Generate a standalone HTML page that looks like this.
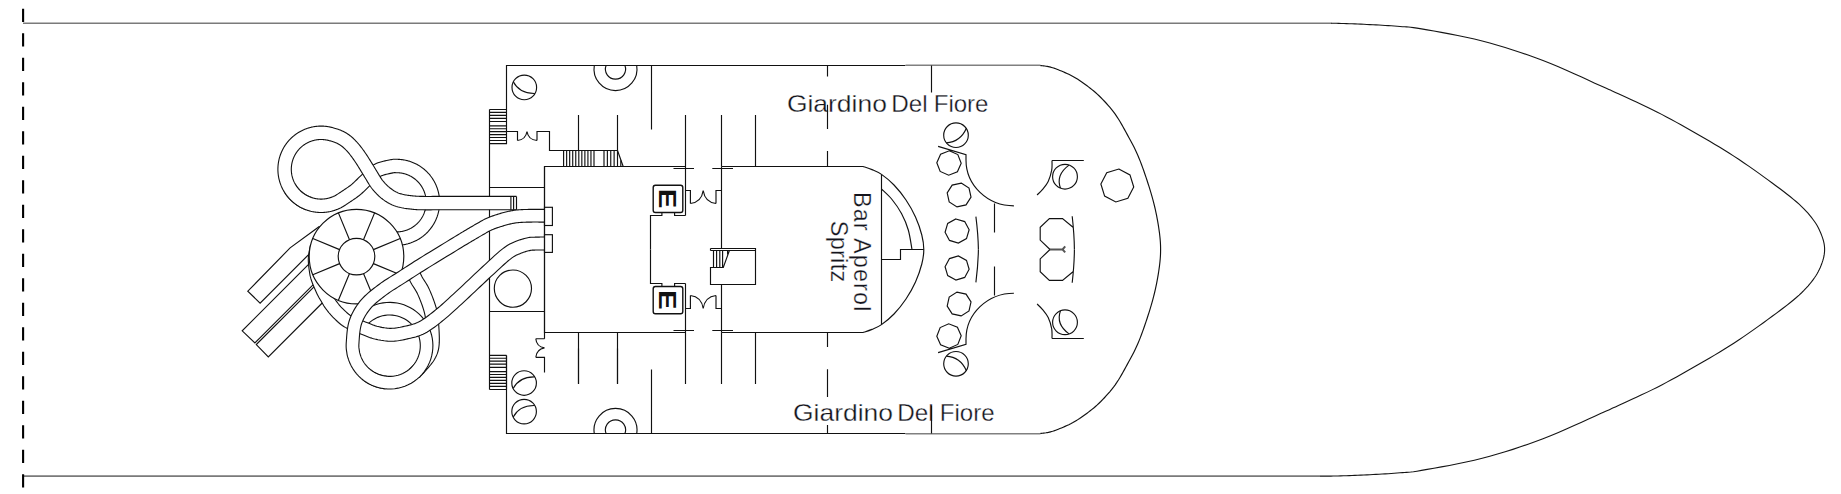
<!DOCTYPE html>
<html lang="it"><head><meta charset="utf-8"><title>Deck plan</title>
<style>html,body{margin:0;padding:0;background:#fff;}body{width:1841px;height:494px;overflow:hidden;}svg{display:block;}text{font-family:"Liberation Sans",sans-serif;fill:#14141c;}.t{stroke:#fff;stroke-width:.3px;paint-order:fill stroke;}.l{fill:none;stroke:#111;stroke-width:1.15;}.w{fill:#fff;stroke:#111;stroke-width:1.15;}</style></head><body>
<svg width="1841" height="494" viewBox="0 0 1841 494">
<rect width="1841" height="494" fill="#fff"/>
<path d="M23 23.2 L1331.5 23.2M23 476.1 L1320 476.1" fill="none" stroke="#7a7a7a" stroke-width="1.6"/>
<path d="M1331 23.2L1333.6 23.25L1336.18 23.31L1338.74 23.37L1341.31 23.44L1343.91 23.52L1346.54 23.61L1349.23 23.7L1352 23.8L1354.86 23.91L1357.79 24.03L1360.78 24.15L1363.81 24.29L1366.87 24.43L1369.93 24.58L1372.98 24.74L1376 24.9L1379.02 25.07L1382.06 25.25L1385.11 25.43L1388.16 25.62L1391.18 25.82L1394.18 26.03L1397.12 26.26L1400 26.5L1402.54 26.7L1404.63 26.82L1406.52 26.92L1408.46 27.04L1410.68 27.25L1413.43 27.6L1416.95 28.13L1421.5 28.9L1427.21 29.9L1433.92 31.07L1441.39 32.4L1449.39 33.88L1457.71 35.49L1466.1 37.23L1474.34 39.07L1482.2 41L1489.82 43.05L1497.48 45.23L1505.16 47.53L1512.83 49.94L1520.47 52.46L1528.06 55.06L1535.58 57.75L1543 60.5L1550.57 63.48L1558.42 66.75L1566.35 70.21L1574.15 73.7L1581.62 77.11L1588.55 80.3L1594.75 83.14L1600 85.5L1604.01 87.27L1606.84 88.52L1608.84 89.4L1610.36 90.08L1611.72 90.7L1613.29 91.43L1615.4 92.41L1618.4 93.8L1622.25 95.57L1626.61 97.57L1631.37 99.74L1636.4 102.05L1641.59 104.46L1646.81 106.93L1651.95 109.43L1656.9 111.9L1661.7 114.38L1666.5 116.92L1671.3 119.5L1676.1 122.14L1680.9 124.81L1685.7 127.51L1690.5 130.25L1695.3 133L1700.11 135.77L1704.92 138.55L1709.73 141.35L1714.55 144.19L1719.37 147.07L1724.18 150.01L1728.99 153.02L1733.8 156.1L1738.68 159.32L1743.68 162.69L1748.71 166.16L1753.72 169.67L1758.65 173.16L1763.41 176.59L1767.95 179.88L1772.2 183L1776.19 185.95L1780 188.79L1783.64 191.54L1787.09 194.2L1790.36 196.79L1793.45 199.31L1796.37 201.78L1799.1 204.2L1801.63 206.56L1803.94 208.84L1806.06 211.06L1808 213.21L1809.79 215.32L1811.46 217.4L1813.02 219.46L1814.5 221.5L1815.87 223.54L1817.09 225.55L1818.18 227.54L1819.16 229.5L1820.04 231.42L1820.83 233.3L1821.54 235.13L1822.2 236.9L1822.79 238.6L1823.29 240.22L1823.7 241.78L1824.03 243.3L1824.28 244.8L1824.46 246.31L1824.57 247.83L1824.6 249.4L1824.57 250.98L1824.46 252.56L1824.28 254.13L1824.03 255.72L1823.7 257.33L1823.29 258.97L1822.79 260.66L1822.2 262.4L1821.54 264.2L1820.83 266.04L1820.04 267.92L1819.16 269.83L1818.18 271.78L1817.09 273.76L1815.87 275.77L1814.5 277.8L1813.02 279.84L1811.46 281.9L1809.79 283.98L1808 286.09L1806.06 288.24L1803.94 290.46L1801.63 292.74L1799.1 295.1L1796.37 297.52L1793.45 299.99L1790.36 302.51L1787.09 305.1L1783.64 307.76L1780 310.51L1776.19 313.35L1772.2 316.3L1767.95 319.42L1763.41 322.71L1758.65 326.14L1753.72 329.63L1748.71 333.14L1743.68 336.61L1738.68 339.98L1733.8 343.2L1728.99 346.28L1724.18 349.29L1719.37 352.23L1714.55 355.11L1709.73 357.95L1704.92 360.75L1700.11 363.53L1695.3 366.3L1690.5 369.05L1685.7 371.79L1680.9 374.49L1676.1 377.16L1671.3 379.8L1666.5 382.38L1661.7 384.92L1656.9 387.4L1651.95 389.87L1646.81 392.37L1641.59 394.84L1636.4 397.25L1631.37 399.56L1626.61 401.73L1622.25 403.73L1618.4 405.5L1615.4 406.89L1613.29 407.87L1611.72 408.6L1610.36 409.22L1608.84 409.9L1606.84 410.78L1604.01 412.03L1600 413.8L1594.75 416.16L1588.55 419L1581.62 422.19L1574.15 425.6L1566.35 429.09L1558.42 432.55L1550.57 435.82L1543 438.8L1535.58 441.55L1528.06 444.24L1520.47 446.84L1512.83 449.36L1505.16 451.77L1497.48 454.07L1489.82 456.25L1482.2 458.3L1474.34 460.23L1466.1 462.07L1457.71 463.81L1449.39 465.42L1441.39 466.9L1433.92 468.23L1427.21 469.4L1421.5 470.4L1416.95 471.17L1413.43 471.7L1410.68 472.05L1408.46 472.26L1406.52 472.38L1404.63 472.48L1402.54 472.6L1400 472.8L1397.12 473.04L1394.18 473.27L1391.18 473.48L1388.16 473.68L1385.11 473.87L1382.06 474.05L1379.02 474.23L1376 474.4L1372.98 474.56L1369.93 474.72L1366.87 474.87L1363.81 475.01L1360.78 475.15L1357.79 475.27L1354.86 475.39L1352 475.5L1349.16 475.6L1346.3 475.7L1343.47 475.79L1340.69 475.87L1338.01 475.94L1335.48 476L1333.13 476.06L1331 476.1L1329.21 476.13L1327.76 476.14L1326.54 476.14L1325.44 476.14L1324.34 476.13L1323.15 476.11L1321.74 476.1L1320 476.1" fill="none" stroke="#151515" stroke-width="1.1"/>
<path d="M23.1 8.7 L23.1 22M23.1 33.2 L23.1 46.5M23.1 57.7 L23.1 71M23.1 82.2 L23.1 95.5M23.1 106.7 L23.1 120M23.1 131.2 L23.1 144.5M23.1 155.7 L23.1 169M23.1 180.2 L23.1 193.5M23.1 204.7 L23.1 218M23.1 229.2 L23.1 242.5M23.1 253.7 L23.1 267M23.1 278.2 L23.1 291.5M23.1 302.7 L23.1 316M23.1 327.2 L23.1 340.5M23.1 351.7 L23.1 365M23.1 376.2 L23.1 389.5M23.1 400.7 L23.1 414M23.1 425.2 L23.1 438.5M23.1 449.7 L23.1 463M23.1 474.2 L23.1 487.5" fill="none" stroke="#000" stroke-width="2.1"/>
<path class="l" d="M506.5 131.5 L506.5 65.5 L905.5 65.5 M1040 65.5L1040 65.5L1041.22 65.6L1042.43 65.72L1043.63 65.86L1044.83 66.02L1046.01 66.2L1047.19 66.41L1048.35 66.64L1049.5 66.9L1050.6 67.17L1051.62 67.44L1052.61 67.72L1053.61 68.04L1054.64 68.39L1055.74 68.79L1056.95 69.26L1058.3 69.8L1059.82 70.41L1061.47 71.09L1063.23 71.82L1065.06 72.6L1066.94 73.43L1068.82 74.31L1070.69 75.24L1072.5 76.2L1074.28 77.21L1076.05 78.26L1077.83 79.36L1079.61 80.5L1081.38 81.69L1083.16 82.92L1084.93 84.19L1086.7 85.5L1088.47 86.84L1090.23 88.2L1091.98 89.6L1093.74 91.04L1095.49 92.54L1097.26 94.11L1099.02 95.76L1100.8 97.5L1102.6 99.34L1104.43 101.26L1106.28 103.26L1108.12 105.33L1109.96 107.46L1111.75 109.65L1113.51 111.9L1115.2 114.2L1116.83 116.57L1118.42 119.03L1119.97 121.56L1121.49 124.14L1122.97 126.75L1124.43 129.38L1125.88 132L1127.3 134.6L1128.71 137.16L1130.09 139.7L1131.45 142.23L1132.79 144.77L1134.1 147.35L1135.39 149.99L1136.66 152.7L1137.9 155.5L1139.12 158.41L1140.32 161.4L1141.49 164.47L1142.64 167.6L1143.77 170.76L1144.87 173.95L1145.95 177.13L1147 180.3L1148.03 183.48L1149.06 186.69L1150.06 189.93L1151.03 193.18L1151.97 196.43L1152.87 199.65L1153.71 202.85L1154.5 206L1155.23 209.14L1155.93 212.29L1156.57 215.44L1157.17 218.56L1157.73 221.62L1158.24 224.62L1158.69 227.52L1159.1 230.3L1159.46 232.94L1159.76 235.46L1160.02 237.87L1160.23 240.22L1160.39 242.52L1160.51 244.82L1160.58 247.13L1160.6 249.5L1160.58 251.87L1160.51 254.18L1160.39 256.48L1160.23 258.78L1160.02 261.13L1159.76 263.54L1159.46 266.06L1159.1 268.7L1158.69 271.48L1158.24 274.38L1157.73 277.38L1157.18 280.44L1156.57 283.56L1155.93 286.71L1155.23 289.86L1154.5 293L1153.71 296.15L1152.87 299.35L1151.97 302.57L1151.03 305.82L1150.06 309.07L1149.06 312.31L1148.03 315.52L1147 318.7L1145.95 321.87L1144.87 325.05L1143.77 328.24L1142.64 331.4L1141.49 334.53L1140.32 337.6L1139.12 340.59L1137.9 343.5L1136.66 346.3L1135.39 349.01L1134.1 351.65L1132.79 354.22L1131.45 356.77L1130.09 359.3L1128.71 361.84L1127.3 364.4L1125.87 367L1124.43 369.62L1122.97 372.25L1121.49 374.86L1119.97 377.44L1118.42 379.97L1116.83 382.43L1115.2 384.8L1113.51 387.1L1111.75 389.35L1109.96 391.54L1108.12 393.68L1106.28 395.74L1104.43 397.74L1102.6 399.66L1100.8 401.5L1099.02 403.24L1097.26 404.89L1095.49 406.46L1093.74 407.96L1091.98 409.4L1090.22 410.8L1088.47 412.16L1086.7 413.5L1084.93 414.81L1083.16 416.08L1081.38 417.31L1079.61 418.5L1077.83 419.64L1076.05 420.74L1074.28 421.79L1072.5 422.8L1070.69 423.76L1068.82 424.69L1066.94 425.57L1065.06 426.4L1063.23 427.18L1061.47 427.91L1059.82 428.59L1058.3 429.2L1056.95 429.74L1055.74 430.21L1054.64 430.61L1053.61 430.96L1052.61 431.28L1051.62 431.56L1050.6 431.83L1049.5 432.1L1048.35 432.36L1047.19 432.59L1046.01 432.8L1044.83 432.98L1043.63 433.14L1042.43 433.28L1041.22 433.4L1040 433.5M905.5 433.5 L506.5 433.5 L506.5 355.4"/>
<path d="M905.5 65.3 L1040.5 65.3M905.5 433.7 L1040.5 433.7" fill="none" stroke="#808080" stroke-width="1.5"/>
<path class="l" d="M651.5 65.5 L651.5 129.5M578.5 115 L578.5 150.5M617.5 115 L617.5 150.5M685.5 115 L685.5 166.5M721.5 115 L721.5 166.5M755.5 115 L755.5 166.5M673.5 168.5 L694 168.5M712.3 168.5 L733 168.5M685.5 166.5 L685.5 215.5M685.5 215.5L674.6 215.5L674.6 212.6M661.9 212.6L661.9 215.5L650.5 215.5L650.5 249.5M685.5 190.5L690.4 190.5L690.4 203.5M690.4 203.5 Q701.5 202.2 703.2 190.5Q704.9 202.2 716 203.5M716 203.5L716 190.5L721.5 190.5M594.3 65.5 A21.5 21.5 0 1 0 636.7 65.5M606.06 65.5 A10.1 10.1 0 1 0 624.94 65.5"/>
<rect x="653.2" y="185.3" width="29.6" height="27.2" rx="2.2" fill="#fff" stroke="#111" stroke-width="1.4"/>
<text transform="translate(659.4 198.6) rotate(90) scale(1.26 1)" font-size="23.3" font-weight="700" text-anchor="middle" style="fill:#111">E</text>
<path class="l" d="M651.5 433.5 L651.5 369.5M578.5 384 L578.5 348.5M617.5 384 L617.5 348.5M685.5 384 L685.5 332.5M721.5 384 L721.5 332.5M755.5 384 L755.5 332.5M673.5 330.5 L694 330.5M712.3 330.5 L733 330.5M685.5 332.5 L685.5 283.5M685.5 283.5L674.6 283.5L674.6 286.4M661.9 286.4L661.9 283.5L650.5 283.5L650.5 249.5M685.5 308.5L690.4 308.5L690.4 295.5M690.4 295.5 Q701.5 296.8 703.2 308.5Q704.9 296.8 716 295.5M716 295.5L716 308.5L721.5 308.5M594.3 433.5 A21.5 21.5 0 1 1 636.7 433.5M606.06 433.5 A10.1 10.1 0 1 1 624.94 433.5"/>
<rect x="653.2" y="286.5" width="29.6" height="27.2" rx="2.2" fill="#fff" stroke="#111" stroke-width="1.4"/>
<text transform="translate(659.4 299.8) rotate(90) scale(1.26 1)" font-size="23.3" font-weight="700" text-anchor="middle" style="fill:#111">E</text>
<path class="l" d="M685.5 166.5 L544.5 166.5 L544.5 332.5 L685.5 332.5"/>
<path class="l" d="M721.5 166.5 L863 166.5C864.5 167.02 868.92 168.28 872 169.6C875.08 170.92 877.83 171.83 881.5 174.4C885.17 176.97 889.92 180.73 894 185C898.08 189.27 902.42 194.67 906 200C909.58 205.33 912.87 211.17 915.5 217C918.13 222.83 920.42 229.58 921.8 235C923.18 240.42 923.8 244.67 923.8 249.5C923.8 254.33 923.18 258.58 921.8 264C920.42 269.42 918.13 276.17 915.5 282C912.87 287.83 909.58 293.67 906 299C902.42 304.33 898.08 309.73 894 314C889.92 318.27 885.17 322.03 881.5 324.6C877.83 327.17 875.08 328.08 872 329.4C868.92 330.72 864.5 331.98 863 332.5L721.5 332.5"/>
<path class="l" d="M881.5 174.4 L881.5 324.6M881.5 189C883.25 190.75 888.67 195.42 892 199.5C895.33 203.58 898.78 208.42 901.5 213.5C904.22 218.58 906.55 224 908.3 230C910.05 236 911.38 246.25 912 249.5M923.8 249.5L900.5 249.5L900.5 259.5L881.5 259.5"/>
<path class="l" d="M710.5 248.5L755.5 248.5L755.5 284.5L710.5 284.5L710.5 267.5L723.3 267.5L729.4 250.5M710.5 250.5 L755.5 250.5M710.5 248.5 L710.5 250.5M713.5 250.5 L713.5 267.5M716.6 250.5 L716.6 267.5M719.8 250.5 L719.8 267.5M722.6 250.5 L722.6 267.5M727.6 250.5 L727.6 254.6M721.5 284.5 L721.5 332.5M721.5 166.5 L721.5 248.5"/>
<path class="l" d="M489.5 109.5 L489.5 389.5M489.5 109.5L506.5 109.5M489.5 143.6L506.5 143.6L506.5 131.5M489.5 389.5L506.5 389.5M489.5 355.4L506.5 355.4M506.5 355.4 L506.5 389.5"/>
<path class="l" d="M489.5 112.4 L506.5 112.4M489.5 358.2 L506.5 358.2M489.5 115.3 L506.5 115.3M489.5 361.1 L506.5 361.1M489.5 118.3 L506.5 118.3M489.5 364.1 L506.5 364.1M489.5 121.5 L506.5 121.5M489.5 367.3 L506.5 367.3M489.5 125.8 L506.5 125.8M489.5 371.6 L506.5 371.6M489.5 128.7 L506.5 128.7M489.5 374.5 L506.5 374.5M489.5 131.6 L506.5 131.6M489.5 377.4 L506.5 377.4M489.5 134.6 L506.5 134.6M489.5 380.4 L506.5 380.4M489.5 137.5 L506.5 137.5M489.5 383.3 L506.5 383.3M489.5 140.5 L506.5 140.5M489.5 386.3 L506.5 386.3"/>
<path class="l" d="M506.5 131.5L517.5 131.5L517.5 140.5M517.5 140.5 Q525.6 139.7 527 131.5 Q528.2 139.7 537 140.5M537 140.5L537 131.5L549.5 131.5L549.5 150.5L617.5 150.5M617.5 150.5 L623.2 166.5M489.5 187.5 L544.5 187.5M489.5 311.5 L544.5 311.5M544.5 332.5 L544.5 338.7M544.5 338.7 L535.8 338.7M535.8 338.7 Q536.5 346.6 544.5 347.9 Q536.5 349.3 535.8 357.3M535.8 357.3L544.5 357.3L544.5 372.6M578.5 332.5 L578.5 383.7M617.5 332.5 L617.5 383.7"/>
<path class="l" d="M563.6 150.5 L563.6 166.5M566.64 150.5 L566.64 166.5M569.68 150.5 L569.68 166.5M572.72 150.5 L572.72 166.5M575.76 150.5 L575.76 166.5M578.8 150.5 L578.8 166.5M581.84 150.5 L581.84 166.5M584.88 150.5 L584.88 166.5M587.92 150.5 L587.92 166.5M590.96 150.5 L590.96 166.5M594 150.5 L594 166.5M604 150.5 L604 166.5M607.38 150.5 L607.38 166.5M610.75 150.5 L610.75 166.5M614.12 150.5 L614.12 166.5M617.5 150.5 L617.5 166.5M620.8 160.2 L620.8 166.5"/>
<g transform="translate(524.3 87.4) scale(1 1)"><circle r="12.3" class="l"/><path class="l" d="M-11 -5.6 Q-4.75 6.4 10.6 6.1"/></g>
<g transform="translate(524.1 383) scale(1 -1)"><circle r="12.3" class="l"/><path class="l" d="M-11 -5.6 Q-4.75 6.4 10.6 6.1"/></g>
<g transform="translate(524.1 411.6) scale(1 -1)"><circle r="12.3" class="l"/><path class="l" d="M-11 -5.6 Q-4.75 6.4 10.6 6.1"/></g>
<circle cx="512.9" cy="288.6" r="18.6" class="l"/>
<path class="l" d="M949.3 150.8L957.83 154.59L961.2 163.3L957.41 171.83L948.7 175.2L940.17 171.41L936.8 162.7L940.59 154.17ZM961.2 183.08L969.01 188.06L971.02 197.1L966.04 204.91L957 206.92L949.19 201.94L947.18 192.9L952.16 185.09ZM955.84 218.97L964.71 221.6L969.13 229.74L966.5 238.61L958.36 243.03L949.49 240.4L945.07 232.26L947.7 223.39ZM938.1 146.4L966 154.6L966 160M966 160 A47.9 45.8 0 0 0 1013.9 205.8M994.5 203.5 L994.5 232.6M975.9 216.6 Q978.2 235 978.4 249.5M1052 160.5 L1083.8 160.5M1052 160.5C1051.95 162.12 1052.33 166.72 1051.7 170.2C1051.07 173.68 1049.72 178.2 1048.2 181.4C1046.68 184.6 1044.45 187.13 1042.6 189.4C1040.75 191.67 1038.02 194.07 1037.1 195M1073 227.3L1062.5 218.6L1049.4 218.6L1040.2 227.3L1040.2 240.1L1050 249.5M1072.2 216.2 Q1074.3 235 1074.4 249.5"/>
<g transform="translate(956 135.2) scale(1 1)"><circle r="12.3" class="l"/><path class="l" d="M-9.7 7.7 Q4.4 6.9 10.5 -7.1"/></g>
<g transform="translate(1065 176.7) scale(1 1)"><circle r="12.4" class="l"/><path class="l" d="M4.05 -11.6 Q-9.35 -1.9 -4.55 11.4"/></g>
<path class="l" d="M949.3 348.2L940.59 344.83L936.8 336.3L940.17 327.59L948.7 323.8L957.41 327.17L961.2 335.7L957.83 344.41ZM961.2 315.92L952.16 313.91L947.18 306.1L949.19 297.06L957 292.08L966.04 294.09L971.02 301.9L969.01 310.94ZM955.84 280.03L947.7 275.61L945.07 266.74L949.49 258.6L958.36 255.97L966.5 260.39L969.13 269.26L964.71 277.4ZM938.1 352.6L966 344.4L966 339M966 339 A47.9 45.8 0 0 1 1013.9 293.2M994.5 295.5 L994.5 266.4M975.9 282.4 Q978.2 264 978.4 249.5M1052 338.5 L1083.8 338.5M1052 338.5C1051.95 336.88 1052.33 332.28 1051.7 328.8C1051.07 325.32 1049.72 320.8 1048.2 317.6C1046.68 314.4 1044.45 311.87 1042.6 309.6C1040.75 307.33 1038.02 304.93 1037.1 304M1073 271.7L1062.5 280.4L1049.4 280.4L1040.2 271.7L1040.2 258.9L1050 249.5M1072.2 282.8 Q1074.3 264 1074.4 249.5"/>
<g transform="translate(956 363.8) scale(1 -1)"><circle r="12.3" class="l"/><path class="l" d="M-9.7 7.7 Q4.4 6.9 10.5 -7.1"/></g>
<g transform="translate(1065 322.3) scale(1 -1)"><circle r="12.4" class="l"/><path class="l" d="M4.05 -11.6 Q-9.35 -1.9 -4.55 11.4"/></g>
<path class="l" d="M1118.8 169.07L1129.98 174.94L1133.73 187L1127.86 198.18L1115.8 201.93L1104.62 196.06L1100.87 184L1106.74 172.82Z"/>
<path d="M1050 249.5 L1062.5 249.5 M1065.2 246.4 L1062.5 249.5 L1065.2 252.4" fill="none" stroke="#555" stroke-width="2"/>
<path class="w" d="M330 232L319 226.7L290.1 247.9L247.8 291.2L260.1 303.1L318.1 245.1"/>
<path class="w" d="M308.31 264.69L242.2 330.8L254.9 342.9L321.01 276.79"/>
<path class="w" d="M319.94 280.96L256.3 344.6L268.3 356.9L331.94 293.26"/>
<path d="M283.88 191.22L284.02 191.42L284.19 191.7L284.42 192.06L284.7 192.49L285 192.95L285.32 193.46L285.67 193.98L286.04 194.51L286.42 195.06L286.81 195.58L287.17 196.04L287.53 196.49L287.89 196.92L288.25 197.36L288.62 197.78L289 198.21L289.38 198.62L289.76 199.04L290.16 199.44L290.55 199.85L290.96 200.24L291.36 200.64L291.78 201.02L292.19 201.4L292.62 201.78L293.04 202.15L293.48 202.51L293.91 202.87L294.36 203.23L294.8 203.57L295.25 203.91L295.71 204.25L296.17 204.58L296.63 204.9L297.1 205.22L297.57 205.53L298.05 205.84L298.53 206.13L299.01 206.43L299.5 206.71L299.99 206.99L300.49 207.26L300.99 207.53L301.49 207.79L301.99 208.04L302.5 208.29L303.01 208.53L303.53 208.77L304.05 208.99L304.57 209.21L305.09 209.42L305.62 209.63L306.15 209.83L306.68 210.02L307.21 210.21L307.75 210.39L308.29 210.56L308.83 210.72L309.37 210.88L309.92 211.03L310.47 211.17L311.01 211.31L311.57 211.43L312.12 211.56L312.67 211.67L313.23 211.78L313.78 211.88L314.34 211.97L314.9 212.05L315.46 212.13L316.02 212.2L316.58 212.26L317.15 212.32L317.71 212.37L318.27 212.41L318.84 212.44L319.4 212.47L319.97 212.49L320.53 212.5L321.1 212.5L321.67 212.5L322.23 212.49L322.8 212.47L323.36 212.44L323.93 212.41L324.49 212.37L325.05 212.32L325.62 212.26L326.18 212.2L326.74 212.13L327.3 212.05L327.86 211.97L328.42 211.88L328.97 211.78L329.53 211.67L330.08 211.56L330.63 211.43L331.19 211.31L331.73 211.17L332.28 211.03L332.83 210.88L333.37 210.72L333.91 210.56L334.45 210.39L334.99 210.21L335.52 210.02L336.05 209.83L336.58 209.63L337.11 209.42L337.6 209.22L338.04 209.05L338.44 208.88L338.87 208.7L339.33 208.5L339.83 208.27L340.35 208.02L340.91 207.73L341.49 207.41L342.11 207.06L342.79 206.66L343.54 206.21L344.34 205.71L345.18 205.17L346.06 204.61L346.98 204.01L347.91 203.4L348.85 202.78L349.78 202.15L350.7 201.53L351.57 200.94L352.39 200.38L353.2 199.84L354.03 199.29L354.88 198.71L355.77 198.11L356.68 197.47L357.62 196.79L358.59 196.06L359.59 195.27L360.63 194.41L361.7 193.49L362.75 192.52L363.79 191.53L364.82 190.53L365.84 189.53L366.85 188.53L367.84 187.55L368.83 186.59L369.81 185.67L370.83 184.74L371.95 183.71L373.07 182.63L374.15 181.58L375.19 180.57L376.19 179.62L377.16 178.75L378.1 177.96L378.99 177.27L379.84 176.69L380.64 176.22L381.5 175.81L382.55 175.4L383.76 174.99L385.08 174.62L386.45 174.27L387.85 173.95L389.23 173.66L390.56 173.39L391.82 173.14L392.92 172.91L393.7 172.75L394.2 172.66L394.53 172.62L394.71 172.6L394.81 172.6L394.94 172.61L395.17 172.62L395.58 172.65L396.17 172.68L396.8 172.7L397.32 172.71L397.76 172.72L398.2 172.74L398.64 172.77L399.09 172.81L399.53 172.85L399.97 172.89L400.41 172.95L400.84 173.01L401.28 173.07L401.71 173.14L402.14 173.22L402.58 173.31L403.01 173.4L403.44 173.5L403.87 173.61L404.3 173.72L404.73 173.84L405.15 173.96L405.57 174.09L405.99 174.23L406.4 174.37L406.82 174.52L407.23 174.68L407.64 174.84L408.05 175.01L408.46 175.18L408.86 175.36L409.26 175.55L409.66 175.74L410.05 175.93L410.44 176.14L410.83 176.35L411.22 176.56L411.6 176.78L411.98 177.01L412.36 177.24L412.73 177.48L413.1 177.73L413.46 177.97L413.82 178.23L414.18 178.48L414.53 178.75L414.88 179.02L415.23 179.3L415.57 179.58L415.91 179.86L416.24 180.15L416.57 180.45L416.89 180.75L417.21 181.05L417.52 181.36L417.83 181.68L418.14 182L418.44 182.32L418.74 182.65L419.03 182.98L419.31 183.32L419.59 183.66L419.87 184L420.14 184.35L420.4 184.7L420.66 185.06L420.92 185.42L421.17 185.79L421.41 186.16L421.65 186.53L421.88 186.9L422.11 187.28L422.33 187.66L422.54 188.05L422.75 188.43L422.96 188.83L423.15 189.22L423.35 189.62L423.53 190.02L423.71 190.43L423.89 190.83L424.06 191.24L424.22 191.65L424.37 192.06L424.52 192.47L424.66 192.89L424.8 193.31L424.93 193.74L425.06 194.16L425.18 194.59L425.29 195.01L425.39 195.44L425.49 195.87L425.59 196.3L425.67 196.73L425.75 197.17L425.82 197.6L425.89 198.04L425.95 198.48L426.01 198.92L426.05 199.36L426.09 199.8L426.13 200.24L426.16 200.67L426.18 201.11L426.19 201.56L426.2 202L426.2 202.44L426.19 202.88L426.18 203.33L426.16 203.77L426.14 204.21L426.11 204.65L426.07 205.08L426.02 205.52L425.97 205.96L425.91 206.4L425.85 206.84L425.78 207.27L425.7 207.71L425.62 208.14L425.53 208.58L425.43 209L425.33 209.43L425.22 209.86L425.1 210.28L424.98 210.71L424.85 211.13L424.72 211.56L424.57 211.97L424.43 212.39L424.27 212.8L424.11 213.21L423.95 213.62L423.78 214.03L423.6 214.43L423.42 214.83L423.22 215.23L423.03 215.63L422.83 216.02L422.62 216.41L422.41 216.8L422.19 217.18L421.96 217.56L421.73 217.94L421.5 218.31L421.26 218.68L421.01 219.05L420.75 219.41L420.5 219.77L420.23 220.12L419.96 220.47L419.69 220.82L419.41 221.16L419.13 221.5L418.84 221.83L418.55 222.16L418.25 222.49L417.94 222.81L417.63 223.13L417.32 223.44L417 223.74L416.68 224.04L416.36 224.34L416.03 224.63L415.69 224.92L415.35 225.2L415.01 225.48L414.66 225.75L414.31 226.02L413.95 226.28L413.59 226.54L413.23 226.79L412.86 227.03L412.49 227.27L412.12 227.5L411.74 227.73L411.36 227.96L410.97 228.18L410.58 228.39L410.19 228.59L409.8 228.79L409.41 228.99L409.01 229.17L408.61 229.35L408.2 229.53L407.79 229.7L407.38 229.87L406.97 230.02L406.55 230.18L406.14 230.32L405.72 230.46L405.3 230.59L404.88 230.72L404.45 230.84L404.03 230.95L403.6 231.06L403.17 231.16L402.73 231.26L402.3 231.35L401.87 231.43L401.43 231.5L400.97 231.58L400.48 231.65L400.04 231.72L399.68 231.77L399.37 231.81L399.08 231.84L398.77 231.86L398.4 231.88L397.94 231.9L397.37 231.9L396.7 231.9L395.94 231.88L395.07 231.84L394.09 231.79L393.01 231.72L391.84 231.64L390.61 231.56L389.31 231.48L387.96 231.41L386.57 231.34L385.16 231.3L383.66 231.28L382.02 231.26L380.29 231.26L378.51 231.26L376.75 231.26L375.05 231.27L373.46 231.28L372.05 231.29L370.88 231.3L369.98 231.3L370.02 244.7L370.94 244.7L372.14 244.69L373.55 244.68L375.12 244.67L376.8 244.66L378.54 244.66L380.27 244.66L381.94 244.66L383.49 244.68L384.84 244.7L386.08 244.74L387.31 244.79L388.54 244.86L389.76 244.93L390.96 245.01L392.13 245.09L393.28 245.16L394.39 245.23L395.47 245.27L396.5 245.3L397.41 245.3L398.21 245.29L398.96 245.27L399.65 245.23L400.3 245.18L400.91 245.12L401.48 245.05L402 244.97L402.49 244.9L403.02 244.82L403.62 244.72L404.25 244.61L404.88 244.49L405.51 244.37L406.14 244.23L406.76 244.08L407.39 243.92L408.01 243.76L408.62 243.58L409.24 243.4L409.85 243.21L410.46 243.01L411.06 242.79L411.66 242.57L412.26 242.34L412.86 242.11L413.45 241.86L414.04 241.6L414.62 241.34L415.2 241.07L415.78 240.79L416.35 240.5L416.92 240.2L417.48 239.89L418.04 239.57L418.59 239.25L419.14 238.92L419.69 238.58L420.23 238.23L420.76 237.87L421.29 237.51L421.81 237.14L422.32 236.76L422.84 236.37L423.34 235.97L423.84 235.57L424.33 235.16L424.82 234.74L425.3 234.32L425.78 233.89L426.24 233.45L426.7 233L427.16 232.55L427.61 232.09L428.05 231.63L428.48 231.15L428.91 230.67L429.33 230.19L429.74 229.7L430.15 229.2L430.54 228.7L430.93 228.19L431.31 227.67L431.69 227.15L432.06 226.63L432.42 226.1L432.77 225.56L433.11 225.02L433.44 224.47L433.77 223.92L434.09 223.36L434.4 222.8L434.7 222.23L434.99 221.66L435.28 221.09L435.55 220.51L435.82 219.93L436.08 219.34L436.33 218.75L436.57 218.15L436.8 217.56L437.03 216.96L437.24 216.35L437.44 215.74L437.64 215.13L437.83 214.52L438 213.9L438.17 213.28L438.33 212.66L438.48 212.04L438.62 211.41L438.75 210.79L438.88 210.16L438.99 209.53L439.09 208.89L439.18 208.26L439.27 207.62L439.34 206.98L439.41 206.35L439.46 205.71L439.51 205.07L439.55 204.43L439.57 203.79L439.59 203.15L439.6 202.5L439.6 201.86L439.59 201.22L439.57 200.58L439.54 199.94L439.5 199.3L439.45 198.66L439.39 198.02L439.32 197.39L439.24 196.75L439.15 196.11L439.06 195.48L438.95 194.85L438.83 194.22L438.71 193.59L438.57 192.96L438.43 192.34L438.28 191.71L438.11 191.09L437.94 190.47L437.76 189.86L437.57 189.25L437.37 188.64L437.16 188.03L436.95 187.43L436.72 186.83L436.48 186.23L436.24 185.64L435.99 185.05L435.73 184.46L435.45 183.88L435.18 183.3L434.89 182.73L434.59 182.16L434.29 181.6L433.97 181.04L433.65 180.48L433.32 179.93L432.99 179.39L432.64 178.85L432.29 178.31L431.92 177.78L431.55 177.26L431.18 176.74L430.79 176.23L430.4 175.72L430 175.22L429.59 174.72L429.18 174.23L428.76 173.75L428.33 173.28L427.89 172.8L427.45 172.34L427 171.88L426.54 171.43L426.08 170.99L425.61 170.56L425.13 170.13L424.65 169.71L424.16 169.29L423.66 168.88L423.16 168.48L422.65 168.09L422.14 167.71L421.62 167.33L421.1 166.96L420.57 166.6L420.03 166.25L419.49 165.9L418.95 165.56L418.39 165.23L417.84 164.91L417.28 164.6L416.71 164.29L416.15 164L415.57 163.71L415 163.43L414.41 163.16L413.83 162.9L413.24 162.65L412.64 162.41L412.05 162.17L411.45 161.94L410.84 161.73L410.24 161.52L409.63 161.32L409.02 161.13L408.4 160.95L407.78 160.78L407.16 160.62L406.54 160.46L405.91 160.32L405.29 160.19L404.66 160.06L404.03 159.95L403.39 159.84L402.76 159.74L402.13 159.66L401.49 159.58L400.85 159.51L400.21 159.45L399.57 159.4L398.93 159.36L398.29 159.33L397.65 159.31L397.09 159.3L396.72 159.29L396.43 159.28L396.03 159.25L395.47 159.22L394.76 159.2L393.95 159.23L393.08 159.3L392.16 159.42L391.18 159.59L390.18 159.79L389.14 160.01L387.93 160.25L386.53 160.54L384.98 160.86L383.32 161.24L381.58 161.68L379.8 162.19L377.98 162.8L376.16 163.52L374.36 164.38L372.68 165.36L371.12 166.42L369.69 167.53L368.35 168.65L367.1 169.78L365.92 170.89L364.81 171.97L363.76 172.99L362.77 173.94L361.77 174.86L360.68 175.86L359.57 176.92L358.48 177.96L357.44 178.99L356.42 179.99L355.45 180.96L354.51 181.87L353.62 182.72L352.77 183.49L351.97 184.19L351.19 184.83L350.42 185.44L349.66 186.01L348.9 186.56L348.14 187.09L347.37 187.62L346.57 188.15L345.75 188.7L344.9 189.27L344.03 189.86L343.17 190.45L342.3 191.03L341.41 191.63L340.52 192.22L339.65 192.8L338.79 193.35L337.97 193.88L337.21 194.36L336.52 194.79L335.91 195.16L335.39 195.47L334.97 195.71L334.63 195.89L334.34 196.04L334.1 196.16L333.87 196.26L333.61 196.37L333.31 196.5L332.94 196.65L332.53 196.82L332.14 196.98L331.78 197.12L331.42 197.26L331.05 197.39L330.68 197.52L330.31 197.64L329.94 197.76L329.56 197.87L329.19 197.98L328.81 198.08L328.44 198.18L328.06 198.28L327.68 198.36L327.3 198.45L326.91 198.53L326.53 198.6L326.14 198.67L325.76 198.73L325.37 198.79L324.99 198.85L324.6 198.89L324.22 198.94L323.83 198.97L323.44 199.01L323.05 199.04L322.66 199.06L322.27 199.08L321.88 199.09L321.49 199.1L321.1 199.1L320.71 199.1L320.32 199.09L319.93 199.08L319.54 199.06L319.15 199.04L318.76 199.01L318.37 198.97L317.98 198.94L317.6 198.89L317.21 198.85L316.83 198.79L316.44 198.73L316.06 198.67L315.67 198.6L315.29 198.53L314.9 198.45L314.52 198.36L314.14 198.28L313.76 198.18L313.39 198.08L313.01 197.98L312.64 197.87L312.26 197.76L311.89 197.64L311.52 197.52L311.15 197.39L310.78 197.26L310.42 197.12L310.06 196.98L309.7 196.83L309.34 196.68L308.98 196.52L308.63 196.36L308.27 196.2L307.92 196.03L307.57 195.85L307.22 195.67L306.88 195.49L306.54 195.3L306.2 195.11L305.86 194.91L305.53 194.71L305.2 194.5L304.87 194.29L304.54 194.08L304.22 193.86L303.9 193.63L303.58 193.41L303.27 193.18L302.96 192.94L302.65 192.7L302.35 192.46L302.05 192.21L301.75 191.96L301.45 191.7L301.16 191.44L300.87 191.18L300.59 190.91L300.3 190.64L300.03 190.37L299.76 190.1L299.49 189.81L299.22 189.53L298.96 189.24L298.7 188.95L298.44 188.65L298.19 188.35L297.94 188.05L297.7 187.75L297.48 187.46L297.27 187.18L297.04 186.86L296.78 186.48L296.51 186.08L296.24 185.67L295.98 185.26L295.73 184.86L295.49 184.49L295.27 184.15L295.1 183.88Z" fill="#fff" stroke="none"/>
<path d="M283.88 191.22L284.02 191.42L284.19 191.7L284.42 192.06L284.7 192.49L285 192.95L285.32 193.46L285.67 193.98L286.04 194.51L286.42 195.06L286.81 195.58L287.17 196.04L287.53 196.49L287.89 196.92L288.25 197.36L288.62 197.78L289 198.21L289.38 198.62L289.76 199.04L290.16 199.44L290.55 199.85L290.96 200.24L291.36 200.64L291.78 201.02L292.19 201.4L292.62 201.78L293.04 202.15L293.48 202.51L293.91 202.87L294.36 203.23L294.8 203.57L295.25 203.91L295.71 204.25L296.17 204.58L296.63 204.9L297.1 205.22L297.57 205.53L298.05 205.84L298.53 206.13L299.01 206.43L299.5 206.71L299.99 206.99L300.49 207.26L300.99 207.53L301.49 207.79L301.99 208.04L302.5 208.29L303.01 208.53L303.53 208.77L304.05 208.99L304.57 209.21L305.09 209.42L305.62 209.63L306.15 209.83L306.68 210.02L307.21 210.21L307.75 210.39L308.29 210.56L308.83 210.72L309.37 210.88L309.92 211.03L310.47 211.17L311.01 211.31L311.57 211.43L312.12 211.56L312.67 211.67L313.23 211.78L313.78 211.88L314.34 211.97L314.9 212.05L315.46 212.13L316.02 212.2L316.58 212.26L317.15 212.32L317.71 212.37L318.27 212.41L318.84 212.44L319.4 212.47L319.97 212.49L320.53 212.5L321.1 212.5L321.67 212.5L322.23 212.49L322.8 212.47L323.36 212.44L323.93 212.41L324.49 212.37L325.05 212.32L325.62 212.26L326.18 212.2L326.74 212.13L327.3 212.05L327.86 211.97L328.42 211.88L328.97 211.78L329.53 211.67L330.08 211.56L330.63 211.43L331.19 211.31L331.73 211.17L332.28 211.03L332.83 210.88L333.37 210.72L333.91 210.56L334.45 210.39L334.99 210.21L335.52 210.02L336.05 209.83L336.58 209.63L337.11 209.42L337.6 209.22L338.04 209.05L338.44 208.88L338.87 208.7L339.33 208.5L339.83 208.27L340.35 208.02L340.91 207.73L341.49 207.41L342.11 207.06L342.79 206.66L343.54 206.21L344.34 205.71L345.18 205.17L346.06 204.61L346.98 204.01L347.91 203.4L348.85 202.78L349.78 202.15L350.7 201.53L351.57 200.94L352.39 200.38L353.2 199.84L354.03 199.29L354.88 198.71L355.77 198.11L356.68 197.47L357.62 196.79L358.59 196.06L359.59 195.27L360.63 194.41L361.7 193.49L362.75 192.52L363.79 191.53L364.82 190.53L365.84 189.53L366.85 188.53L367.84 187.55L368.83 186.59L369.81 185.67L370.83 184.74L371.95 183.71L373.07 182.63L374.15 181.58L375.19 180.57L376.19 179.62L377.16 178.75L378.1 177.96L378.99 177.27L379.84 176.69L380.64 176.22L381.5 175.81L382.55 175.4L383.76 174.99L385.08 174.62L386.45 174.27L387.85 173.95L389.23 173.66L390.56 173.39L391.82 173.14L392.92 172.91L393.7 172.75L394.2 172.66L394.53 172.62L394.71 172.6L394.81 172.6L394.94 172.61L395.17 172.62L395.58 172.65L396.17 172.68L396.8 172.7L397.32 172.71L397.76 172.72L398.2 172.74L398.64 172.77L399.09 172.81L399.53 172.85L399.97 172.89L400.41 172.95L400.84 173.01L401.28 173.07L401.71 173.14L402.14 173.22L402.58 173.31L403.01 173.4L403.44 173.5L403.87 173.61L404.3 173.72L404.73 173.84L405.15 173.96L405.57 174.09L405.99 174.23L406.4 174.37L406.82 174.52L407.23 174.68L407.64 174.84L408.05 175.01L408.46 175.18L408.86 175.36L409.26 175.55L409.66 175.74L410.05 175.93L410.44 176.14L410.83 176.35L411.22 176.56L411.6 176.78L411.98 177.01L412.36 177.24L412.73 177.48L413.1 177.73L413.46 177.97L413.82 178.23L414.18 178.48L414.53 178.75L414.88 179.02L415.23 179.3L415.57 179.58L415.91 179.86L416.24 180.15L416.57 180.45L416.89 180.75L417.21 181.05L417.52 181.36L417.83 181.68L418.14 182L418.44 182.32L418.74 182.65L419.03 182.98L419.31 183.32L419.59 183.66L419.87 184L420.14 184.35L420.4 184.7L420.66 185.06L420.92 185.42L421.17 185.79L421.41 186.16L421.65 186.53L421.88 186.9L422.11 187.28L422.33 187.66L422.54 188.05L422.75 188.43L422.96 188.83L423.15 189.22L423.35 189.62L423.53 190.02L423.71 190.43L423.89 190.83L424.06 191.24L424.22 191.65L424.37 192.06L424.52 192.47L424.66 192.89L424.8 193.31L424.93 193.74L425.06 194.16L425.18 194.59L425.29 195.01L425.39 195.44L425.49 195.87L425.59 196.3L425.67 196.73L425.75 197.17L425.82 197.6L425.89 198.04L425.95 198.48L426.01 198.92L426.05 199.36L426.09 199.8L426.13 200.24L426.16 200.67L426.18 201.11L426.19 201.56L426.2 202L426.2 202.44L426.19 202.88L426.18 203.33L426.16 203.77L426.14 204.21L426.11 204.65L426.07 205.08L426.02 205.52L425.97 205.96L425.91 206.4L425.85 206.84L425.78 207.27L425.7 207.71L425.62 208.14L425.53 208.58L425.43 209L425.33 209.43L425.22 209.86L425.1 210.28L424.98 210.71L424.85 211.13L424.72 211.56L424.57 211.97L424.43 212.39L424.27 212.8L424.11 213.21L423.95 213.62L423.78 214.03L423.6 214.43L423.42 214.83L423.22 215.23L423.03 215.63L422.83 216.02L422.62 216.41L422.41 216.8L422.19 217.18L421.96 217.56L421.73 217.94L421.5 218.31L421.26 218.68L421.01 219.05L420.75 219.41L420.5 219.77L420.23 220.12L419.96 220.47L419.69 220.82L419.41 221.16L419.13 221.5L418.84 221.83L418.55 222.16L418.25 222.49L417.94 222.81L417.63 223.13L417.32 223.44L417 223.74L416.68 224.04L416.36 224.34L416.03 224.63L415.69 224.92L415.35 225.2L415.01 225.48L414.66 225.75L414.31 226.02L413.95 226.28L413.59 226.54L413.23 226.79L412.86 227.03L412.49 227.27L412.12 227.5L411.74 227.73L411.36 227.96L410.97 228.18L410.58 228.39L410.19 228.59L409.8 228.79L409.41 228.99L409.01 229.17L408.61 229.35L408.2 229.53L407.79 229.7L407.38 229.87L406.97 230.02L406.55 230.18L406.14 230.32L405.72 230.46L405.3 230.59L404.88 230.72L404.45 230.84L404.03 230.95L403.6 231.06L403.17 231.16L402.73 231.26L402.3 231.35L401.87 231.43L401.43 231.5L400.97 231.58L400.48 231.65L400.04 231.72L399.68 231.77L399.37 231.81L399.08 231.84L398.77 231.86L398.4 231.88L397.94 231.9L397.37 231.9L396.7 231.9L395.94 231.88L395.07 231.84L394.09 231.79L393.01 231.72L391.84 231.64L390.61 231.56L389.31 231.48L387.96 231.41L386.57 231.34L385.16 231.3L383.66 231.28L382.02 231.26L380.29 231.26L378.51 231.26L376.75 231.26L375.05 231.27L373.46 231.28L372.05 231.29L370.88 231.3L369.98 231.3M295.1 183.88L295.27 184.15L295.49 184.49L295.73 184.86L295.98 185.26L296.24 185.67L296.51 186.08L296.78 186.48L297.04 186.86L297.27 187.18L297.48 187.46L297.7 187.75L297.94 188.05L298.19 188.35L298.44 188.65L298.7 188.95L298.96 189.24L299.22 189.53L299.49 189.81L299.76 190.1L300.03 190.37L300.3 190.64L300.59 190.91L300.87 191.18L301.16 191.44L301.45 191.7L301.75 191.96L302.05 192.21L302.35 192.46L302.65 192.7L302.96 192.94L303.27 193.18L303.58 193.41L303.9 193.63L304.22 193.86L304.54 194.08L304.87 194.29L305.2 194.5L305.53 194.71L305.86 194.91L306.2 195.11L306.54 195.3L306.88 195.49L307.22 195.67L307.57 195.85L307.92 196.03L308.27 196.2L308.63 196.36L308.98 196.52L309.34 196.68L309.7 196.83L310.06 196.98L310.42 197.12L310.78 197.26L311.15 197.39L311.52 197.52L311.89 197.64L312.26 197.76L312.64 197.87L313.01 197.98L313.39 198.08L313.76 198.18L314.14 198.28L314.52 198.36L314.9 198.45L315.29 198.53L315.67 198.6L316.06 198.67L316.44 198.73L316.83 198.79L317.21 198.85L317.6 198.89L317.98 198.94L318.37 198.97L318.76 199.01L319.15 199.04L319.54 199.06L319.93 199.08L320.32 199.09L320.71 199.1L321.1 199.1L321.49 199.1L321.88 199.09L322.27 199.08L322.66 199.06L323.05 199.04L323.44 199.01L323.83 198.97L324.22 198.94L324.6 198.89L324.99 198.85L325.37 198.79L325.76 198.73L326.14 198.67L326.53 198.6L326.91 198.53L327.3 198.45L327.68 198.36L328.06 198.28L328.44 198.18L328.81 198.08L329.19 197.98L329.56 197.87L329.94 197.76L330.31 197.64L330.68 197.52L331.05 197.39L331.42 197.26L331.78 197.12L332.14 196.98L332.53 196.82L332.94 196.65L333.31 196.5L333.61 196.37L333.87 196.26L334.1 196.16L334.34 196.04L334.63 195.89L334.97 195.71L335.39 195.47L335.91 195.16L336.52 194.79L337.21 194.36L337.97 193.88L338.79 193.35L339.65 192.8L340.52 192.22L341.41 191.63L342.3 191.03L343.17 190.45L344.03 189.86L344.9 189.27L345.75 188.7L346.57 188.15L347.37 187.62L348.14 187.09L348.9 186.56L349.66 186.01L350.42 185.44L351.19 184.83L351.97 184.19L352.77 183.49L353.62 182.72L354.51 181.87L355.45 180.96L356.42 179.99L357.44 178.99L358.48 177.96L359.57 176.92L360.68 175.86L361.77 174.86L362.77 173.94L363.76 172.99L364.81 171.97L365.92 170.89L367.1 169.78L368.35 168.65L369.69 167.53L371.12 166.42L372.68 165.36L374.36 164.38L376.16 163.52L377.98 162.8L379.8 162.19L381.58 161.68L383.32 161.24L384.98 160.86L386.53 160.54L387.93 160.25L389.14 160.01L390.18 159.79L391.18 159.59L392.16 159.42L393.08 159.3L393.95 159.23L394.76 159.2L395.47 159.22L396.03 159.25L396.43 159.28L396.72 159.29L397.09 159.3L397.65 159.31L398.29 159.33L398.93 159.36L399.57 159.4L400.21 159.45L400.85 159.51L401.49 159.58L402.13 159.66L402.76 159.74L403.39 159.84L404.03 159.95L404.66 160.06L405.29 160.19L405.91 160.32L406.54 160.46L407.16 160.62L407.78 160.78L408.4 160.95L409.02 161.13L409.63 161.32L410.24 161.52L410.84 161.73L411.45 161.94L412.05 162.17L412.64 162.41L413.24 162.65L413.83 162.9L414.41 163.16L415 163.43L415.57 163.71L416.15 164L416.71 164.29L417.28 164.6L417.84 164.91L418.39 165.23L418.95 165.56L419.49 165.9L420.03 166.25L420.57 166.6L421.1 166.96L421.62 167.33L422.14 167.71L422.65 168.09L423.16 168.48L423.66 168.88L424.16 169.29L424.65 169.71L425.13 170.13L425.61 170.56L426.08 170.99L426.54 171.43L427 171.88L427.45 172.34L427.89 172.8L428.33 173.28L428.76 173.75L429.18 174.23L429.59 174.72L430 175.22L430.4 175.72L430.79 176.23L431.18 176.74L431.55 177.26L431.92 177.78L432.29 178.31L432.64 178.85L432.99 179.39L433.32 179.93L433.65 180.48L433.97 181.04L434.29 181.6L434.59 182.16L434.89 182.73L435.18 183.3L435.45 183.88L435.73 184.46L435.99 185.05L436.24 185.64L436.48 186.23L436.72 186.83L436.95 187.43L437.16 188.03L437.37 188.64L437.57 189.25L437.76 189.86L437.94 190.47L438.11 191.09L438.28 191.71L438.43 192.34L438.57 192.96L438.71 193.59L438.83 194.22L438.95 194.85L439.06 195.48L439.15 196.11L439.24 196.75L439.32 197.39L439.39 198.02L439.45 198.66L439.5 199.3L439.54 199.94L439.57 200.58L439.59 201.22L439.6 201.86L439.6 202.5L439.59 203.15L439.57 203.79L439.55 204.43L439.51 205.07L439.46 205.71L439.41 206.35L439.34 206.98L439.27 207.62L439.18 208.26L439.09 208.89L438.99 209.53L438.88 210.16L438.75 210.79L438.62 211.41L438.48 212.04L438.33 212.66L438.17 213.28L438 213.9L437.83 214.52L437.64 215.13L437.44 215.74L437.24 216.35L437.03 216.96L436.8 217.56L436.57 218.15L436.33 218.75L436.08 219.34L435.82 219.93L435.55 220.51L435.28 221.09L434.99 221.66L434.7 222.23L434.4 222.8L434.09 223.36L433.77 223.92L433.44 224.47L433.11 225.02L432.77 225.56L432.42 226.1L432.06 226.63L431.69 227.15L431.31 227.67L430.93 228.19L430.54 228.7L430.15 229.2L429.74 229.7L429.33 230.19L428.91 230.67L428.48 231.15L428.05 231.63L427.61 232.09L427.16 232.55L426.7 233L426.24 233.45L425.78 233.89L425.3 234.32L424.82 234.74L424.33 235.16L423.84 235.57L423.34 235.97L422.84 236.37L422.32 236.76L421.81 237.14L421.29 237.51L420.76 237.87L420.23 238.23L419.69 238.58L419.14 238.92L418.59 239.25L418.04 239.57L417.48 239.89L416.92 240.2L416.35 240.5L415.78 240.79L415.2 241.07L414.62 241.34L414.04 241.6L413.45 241.86L412.86 242.11L412.26 242.34L411.66 242.57L411.06 242.79L410.46 243.01L409.85 243.21L409.24 243.4L408.62 243.58L408.01 243.76L407.39 243.92L406.76 244.08L406.14 244.23L405.51 244.37L404.88 244.49L404.25 244.61L403.62 244.72L403.02 244.82L402.49 244.9L402 244.97L401.48 245.05L400.91 245.12L400.3 245.18L399.65 245.23L398.96 245.27L398.21 245.29L397.41 245.3L396.5 245.3L395.47 245.27L394.39 245.23L393.28 245.16L392.13 245.09L390.96 245.01L389.76 244.93L388.54 244.86L387.31 244.79L386.08 244.74L384.84 244.7L383.49 244.68L381.94 244.66L380.27 244.66L378.54 244.66L376.8 244.66L375.12 244.67L373.55 244.68L372.14 244.69L370.94 244.7L370.02 244.7" fill="none" stroke="#111" stroke-width="1.1"/>
<path d="M406.59 273.67L406.82 274.16L407.1 274.78L407.45 275.54L407.85 276.42L408.29 277.39L408.78 278.44L409.3 279.53L409.86 280.67L410.44 281.83L411.07 283.02L411.76 284.23L412.48 285.42L413.2 286.56L413.92 287.67L414.62 288.76L415.31 289.85L415.98 290.96L416.62 292.11L417.25 293.3L417.87 294.61L418.53 296.13L419.25 297.81L419.99 299.6L420.72 301.47L421.45 303.38L422.15 305.31L422.81 307.22L423.41 309.09L423.94 310.87L424.39 312.53L424.76 314.11L425.06 315.65L425.32 317.18L425.53 318.71L425.71 320.24L425.86 321.8L425.99 323.38L426.1 325.01L426.21 326.68L426.31 328.39L426.42 330.14L426.52 331.93L426.6 333.75L426.67 335.57L426.71 337.36L426.73 339.1L426.71 340.76L426.66 342.3L426.57 343.7L426.45 344.93L426.29 346.02L426.11 346.98L425.91 347.82L425.69 348.57L425.45 349.27L425.17 349.95L424.85 350.66L424.48 351.42L424.03 352.25L423.56 353.09L423.08 353.89L422.54 354.69L421.9 355.55L421.19 356.46L420.43 357.38L419.62 358.33L418.8 359.28L417.96 360.22L417.14 361.17L416.37 362.06L415.66 362.88L414.94 363.68L414.21 364.49L413.47 365.28L412.75 366.05L412.06 366.77L411.41 367.45L410.83 368.05L410.31 368.59L409.9 369.03L419.08 377.66L419.45 377.27L419.92 376.77L420.5 376.17L421.17 375.48L421.89 374.71L422.67 373.89L423.48 373.02L424.3 372.12L425.12 371.2L425.9 370.3L426.64 369.44L427.43 368.54L428.28 367.57L429.17 366.55L430.08 365.48L431.01 364.36L431.93 363.19L432.83 361.97L433.69 360.69L434.46 359.43L435.1 358.28L435.68 357.19L436.23 356.07L436.76 354.9L437.26 353.67L437.7 352.37L438.1 351.01L438.44 349.58L438.72 348.08L438.95 346.47L439.13 344.73L439.25 342.91L439.31 341.03L439.33 339.1L439.31 337.15L439.26 335.18L439.19 333.22L439.1 331.29L439 329.41L438.89 327.61L438.78 325.88L438.67 324.17L438.55 322.44L438.41 320.69L438.24 318.92L438.03 317.11L437.77 315.27L437.46 313.38L437.07 311.45L436.61 309.47L436.07 307.43L435.45 305.35L434.76 303.23L434.03 301.11L433.26 298.99L432.47 296.91L431.67 294.89L430.88 292.96L430.1 291.13L429.33 289.39L428.54 287.7L427.7 286.1L426.87 284.62L426.04 283.25L425.25 281.99L424.5 280.83L423.81 279.76L423.18 278.77L422.63 277.86L422.13 276.98L421.64 276.05L421.14 275.06L420.65 274.06L420.18 273.07L419.73 272.11L419.31 271.19L418.93 270.34L418.58 269.57L418.27 268.89L418.01 268.33Z" fill="#fff" stroke="none"/>
<path d="M406.59 273.67L406.82 274.16L407.1 274.78L407.45 275.54L407.85 276.42L408.29 277.39L408.78 278.44L409.3 279.53L409.86 280.67L410.44 281.83L411.07 283.02L411.76 284.23L412.48 285.42L413.2 286.56L413.92 287.67L414.62 288.76L415.31 289.85L415.98 290.96L416.62 292.11L417.25 293.3L417.87 294.61L418.53 296.13L419.25 297.81L419.99 299.6L420.72 301.47L421.45 303.38L422.15 305.31L422.81 307.22L423.41 309.09L423.94 310.87L424.39 312.53L424.76 314.11L425.06 315.65L425.32 317.18L425.53 318.71L425.71 320.24L425.86 321.8L425.99 323.38L426.1 325.01L426.21 326.68L426.31 328.39L426.42 330.14L426.52 331.93L426.6 333.75L426.67 335.57L426.71 337.36L426.73 339.1L426.71 340.76L426.66 342.3L426.57 343.7L426.45 344.93L426.29 346.02L426.11 346.98L425.91 347.82L425.69 348.57L425.45 349.27L425.17 349.95L424.85 350.66L424.48 351.42L424.03 352.25L423.56 353.09L423.08 353.89L422.54 354.69L421.9 355.55L421.19 356.46L420.43 357.38L419.62 358.33L418.8 359.28L417.96 360.22L417.14 361.17L416.37 362.06L415.66 362.88L414.94 363.68L414.21 364.49L413.47 365.28L412.75 366.05L412.06 366.77L411.41 367.45L410.83 368.05L410.31 368.59L409.9 369.03M418.01 268.33L418.27 268.89L418.58 269.57L418.93 270.34L419.31 271.19L419.73 272.11L420.18 273.07L420.65 274.06L421.14 275.06L421.64 276.05L422.13 276.98L422.63 277.86L423.18 278.77L423.81 279.76L424.5 280.83L425.25 281.99L426.04 283.25L426.87 284.62L427.7 286.1L428.54 287.7L429.33 289.39L430.1 291.13L430.88 292.96L431.67 294.89L432.47 296.91L433.26 298.99L434.03 301.11L434.76 303.23L435.45 305.35L436.07 307.43L436.61 309.47L437.07 311.45L437.46 313.38L437.77 315.27L438.03 317.11L438.24 318.92L438.41 320.69L438.55 322.44L438.67 324.17L438.78 325.88L438.89 327.61L439 329.41L439.1 331.29L439.19 333.22L439.26 335.18L439.31 337.15L439.33 339.1L439.31 341.03L439.25 342.91L439.13 344.73L438.95 346.47L438.72 348.08L438.44 349.58L438.1 351.01L437.7 352.37L437.26 353.67L436.76 354.9L436.23 356.07L435.68 357.19L435.1 358.28L434.46 359.43L433.69 360.69L432.83 361.97L431.93 363.19L431.01 364.36L430.08 365.48L429.17 366.55L428.28 367.57L427.43 368.54L426.64 369.44L425.9 370.3L425.12 371.2L424.3 372.12L423.48 373.02L422.67 373.89L421.89 374.71L421.17 375.48L420.5 376.17L419.92 376.77L419.45 377.27L419.08 377.66" fill="none" stroke="#111" stroke-width="1.1"/>
<path d="M361.97 379.03L364.56 381.02L367.52 382.94L370.62 384.62L373.85 386.03L377.18 387.18L380.6 388.05L384.07 388.65L387.59 388.95L391.11 388.97L394.63 388.71L398.11 388.16L401.54 387.32L404.88 386.21L408.13 384.84L411.25 383.2L414.23 381.31L417.04 379.19L419.68 376.85L422.11 374.3L424.33 371.56L426.32 368.65L428.07 365.58L429.56 362.39L430.78 359.08L431.73 355.69L432.41 352.22L432.79 348.72L432.9 345.2L432.71 341.68L432.24 338.18L431.49 334.74L430.46 331.36L429.16 328.09L427.59 324.93L425.78 321.91L423.72 319.04L421.44 316.35L418.95 313.86L416.26 311.58L413.39 309.52L410.37 307.71L407.21 306.14L403.94 304.84L400.56 303.81L397.12 303.06L393.62 302.59L390.1 302.4L386.58 302.51L383.08 302.89L379.61 303.57L376.22 304.52L372.91 305.74L369.72 307.23L366.65 308.98L363.74 310.97L361 313.19L358.45 315.62L356.11 318.26L353.99 321.07L352.23 323.83L362.88 330.57L364.35 328.24L365.85 326.24L367.52 324.37L369.32 322.65L371.27 321.07L373.33 319.66L375.5 318.43L377.77 317.37L380.11 316.5L382.52 315.83L384.97 315.35L387.46 315.07L389.96 315L392.45 315.13L394.93 315.47L397.37 316L399.76 316.73L402.09 317.65L404.33 318.76L406.47 320.05L408.5 321.51L410.41 323.13L412.17 324.89L413.79 326.8L415.25 328.83L416.54 330.97L417.65 333.21L418.57 335.54L419.3 337.93L419.83 340.37L420.17 342.85L420.3 345.34L420.23 347.84L419.95 350.33L419.47 352.78L418.8 355.19L417.93 357.53L416.87 359.8L415.64 361.97L414.23 364.03L412.65 365.98L410.93 367.78L409.06 369.45L407.06 370.95L404.95 372.29L402.74 373.45L400.43 374.42L398.06 375.21L395.63 375.8L393.16 376.19L390.67 376.38L388.17 376.37L385.68 376.15L383.22 375.73L380.8 375.11L378.43 374.3L376.14 373.29L373.94 372.11L371.85 370.75L369.67 369.06Z" fill="#fff" stroke="none"/>
<path d="M361.97 379.03L364.56 381.02L367.52 382.94L370.62 384.62L373.85 386.03L377.18 387.18L380.6 388.05L384.07 388.65L387.59 388.95L391.11 388.97L394.63 388.71L398.11 388.16L401.54 387.32L404.88 386.21L408.13 384.84L411.25 383.2L414.23 381.31L417.04 379.19L419.68 376.85L422.11 374.3L424.33 371.56L426.32 368.65L428.07 365.58L429.56 362.39L430.78 359.08L431.73 355.69L432.41 352.22L432.79 348.72L432.9 345.2L432.71 341.68L432.24 338.18L431.49 334.74L430.46 331.36L429.16 328.09L427.59 324.93L425.78 321.91L423.72 319.04L421.44 316.35L418.95 313.86L416.26 311.58L413.39 309.52L410.37 307.71L407.21 306.14L403.94 304.84L400.56 303.81L397.12 303.06L393.62 302.59L390.1 302.4L386.58 302.51L383.08 302.89L379.61 303.57L376.22 304.52L372.91 305.74L369.72 307.23L366.65 308.98L363.74 310.97L361 313.19L358.45 315.62L356.11 318.26L353.99 321.07L352.23 323.83M369.67 369.06L371.85 370.75L373.94 372.11L376.14 373.29L378.43 374.3L380.8 375.11L383.22 375.73L385.68 376.15L388.17 376.37L390.67 376.38L393.16 376.19L395.63 375.8L398.06 375.21L400.43 374.42L402.74 373.45L404.95 372.29L407.06 370.95L409.06 369.45L410.93 367.78L412.65 365.98L414.23 364.03L415.64 361.97L416.87 359.8L417.93 357.53L418.8 355.19L419.47 352.78L419.95 350.33L420.23 347.84L420.3 345.34L420.17 342.85L419.83 340.37L419.3 337.93L418.57 335.54L417.65 333.21L416.54 330.97L415.25 328.83L413.79 326.8L412.17 324.89L410.41 323.13L408.5 321.51L406.47 320.05L404.33 318.76L402.09 317.65L399.76 316.73L397.37 316L394.93 315.47L392.45 315.13L389.96 315L387.46 315.07L384.97 315.35L382.52 315.83L380.11 316.5L377.77 317.37L375.5 318.43L373.33 319.66L371.27 321.07L369.32 322.65L367.52 324.37L365.85 326.24L364.35 328.24L362.88 330.57" fill="none" stroke="#111" stroke-width="1.1"/>
<path d="M552.01 237.05L551.58 237.05L551.04 237.05L550.41 237.05L549.69 237.05L548.9 237.04L548.08 237.04L547.22 237.04L546.35 237.04L545.49 237.05L544.67 237.05L543.85 237.05L543 237.06L542.11 237.06L541.2 237.06L540.28 237.07L539.35 237.08L538.43 237.09L537.51 237.1L536.62 237.13L535.8 237.15L535.13 237.17L534.53 237.18L533.91 237.18L533.24 237.18L532.5 237.2L531.68 237.23L530.79 237.31L529.83 237.42L528.82 237.58L527.77 237.79L526.72 238.02L525.62 238.28L524.45 238.57L523.23 238.89L521.96 239.25L520.66 239.64L519.34 240.07L518.01 240.53L516.67 241.03L515.41 241.55L514.28 242.03L513.21 242.49L512.11 242.97L510.97 243.51L509.77 244.11L508.53 244.79L507.22 245.56L505.86 246.44L504.42 247.44L502.89 248.57L501.29 249.83L499.66 251.17L498 252.59L496.3 254.09L494.54 255.67L492.72 257.33L490.83 259.08L488.86 260.9L486.79 262.81L484.62 264.81L482.28 266.98L479.75 269.35L477.08 271.85L474.32 274.46L471.5 277.13L468.66 279.81L465.84 282.47L463.09 285.06L460.44 287.53L457.92 289.86L455.49 292.1L453.11 294.31L450.77 296.47L448.49 298.58L446.26 300.62L444.08 302.59L441.96 304.49L439.89 306.31L437.88 308.03L435.91 309.67L433.96 311.24L432.08 312.76L430.26 314.19L428.51 315.53L426.81 316.8L425.16 317.97L423.56 319.06L422 320.06L420.48 320.97L419 321.79L417.58 322.49L416.2 323.1L414.83 323.63L413.45 324.09L412.05 324.51L410.62 324.89L409.16 325.25L407.66 325.6L406.11 325.95L404.55 326.32L403.04 326.66L401.58 326.98L400.16 327.28L398.77 327.54L397.4 327.77L396.06 327.97L394.75 328.13L393.47 328.24L392.2 328.32L390.96 328.35L389.72 328.33L388.46 328.27L387.16 328.16L385.85 328.01L384.53 327.83L383.2 327.61L381.87 327.37L380.56 327.1L379.26 326.82L378.02 326.53L376.9 326.25L375.87 325.95L374.88 325.64L373.9 325.29L372.9 324.92L371.85 324.51L370.74 324.06L369.54 323.57L368.25 323.05L366.85 322.49L365.33 321.91L363.73 321.31L362.09 320.69L360.42 320.06L358.77 319.42L357.14 318.77L355.59 318.11L354.15 317.46L352.85 316.83L351.72 316.21L350.71 315.59L349.73 314.93L348.79 314.24L347.88 313.51L347 312.76L346.12 311.97L345.25 311.15L344.38 310.31L343.49 309.45L342.63 308.61L341.85 307.83L341.13 307.08L340.44 306.32L339.77 305.55L339.12 304.78L338.49 304.01L337.87 303.23L337.27 302.45L336.68 301.66L336.11 300.9L335.61 300.2L335.14 299.51L334.69 298.81L334.25 298.1L333.82 297.38L333.39 296.65L332.97 295.91L332.54 295.16L332.11 294.41L331.67 293.65L331.25 292.94L330.88 292.31L330.54 291.75L330.24 291.25L329.97 290.77L329.7 290.3L329.43 289.79L329.14 289.23L328.82 288.57L328.45 287.78L328.02 286.84L327.53 285.77L327.01 284.6L326.48 283.37L325.94 282.12L325.41 280.86L324.91 279.63L324.45 278.46L324.04 277.38L323.71 276.43L323.43 275.58L323.2 274.81L323 274.12L322.84 273.48L322.7 272.86L322.58 272.22L322.46 271.55L322.34 270.8L322.22 269.96L322.09 269.02L321.95 267.98L321.8 266.91L321.66 265.82L321.54 264.72L321.42 263.62L321.33 262.52L321.26 261.44L321.22 260.39L321.21 259.38L321.24 258.45L321.32 257.49L321.45 256.39L321.64 255.16L321.87 253.88L322.12 252.57L322.38 251.3L322.64 250.1L322.88 248.99L323.08 248L323.23 247.22L310.57 244.78L310.44 245.44L310.26 246.31L310.02 247.4L309.75 248.66L309.47 250.05L309.18 251.53L308.91 253.06L308.67 254.62L308.48 256.2L308.36 257.75L308.31 259.23L308.32 260.67L308.38 262.09L308.46 263.47L308.58 264.82L308.71 266.13L308.86 267.39L309.01 268.59L309.16 269.72L309.31 270.78L309.45 271.78L309.59 272.74L309.74 273.67L309.9 274.59L310.08 275.52L310.29 276.46L310.54 277.43L310.81 278.42L311.13 279.46L311.49 280.57L311.92 281.79L312.41 283.09L312.93 284.43L313.49 285.79L314.06 287.16L314.64 288.51L315.21 289.81L315.76 291.04L316.28 292.18L316.75 293.22L317.19 294.15L317.61 295L318.01 295.78L318.39 296.49L318.76 297.15L319.11 297.77L319.46 298.35L319.8 298.93L320.16 299.52L320.53 300.15L320.92 300.83L321.34 301.55L321.77 302.32L322.23 303.12L322.72 303.95L323.24 304.82L323.79 305.72L324.39 306.64L325.03 307.57L325.69 308.5L326.34 309.38L327 310.26L327.7 311.16L328.42 312.08L329.18 313.02L329.98 313.96L330.82 314.92L331.71 315.89L332.63 316.86L333.57 317.79L334.48 318.68L335.4 319.57L336.37 320.51L337.4 321.48L338.5 322.47L339.68 323.47L340.94 324.47L342.29 325.47L343.73 326.44L345.28 327.39L346.93 328.29L348.66 329.14L350.44 329.94L352.23 330.7L354.03 331.42L355.81 332.11L357.55 332.76L359.2 333.38L360.74 333.96L362.15 334.51L363.45 335.02L364.69 335.53L365.89 336.02L367.09 336.5L368.29 336.97L369.52 337.43L370.8 337.87L372.13 338.3L373.53 338.7L374.98 339.07L376.43 339.4L377.91 339.73L379.43 340.03L380.99 340.32L382.6 340.58L384.24 340.81L385.9 341L387.6 341.14L389.31 341.23L391.04 341.25L392.75 341.21L394.44 341.11L396.11 340.95L397.77 340.76L399.41 340.52L401.04 340.24L402.66 339.93L404.27 339.6L405.88 339.25L407.45 338.88L408.99 338.53L410.55 338.18L412.17 337.8L413.84 337.39L415.58 336.92L417.37 336.38L419.22 335.76L421.11 335.03L423.04 334.18L425 333.21L426.92 332.15L428.8 331.02L430.67 329.82L432.54 328.55L434.4 327.22L436.28 325.83L438.18 324.37L440.11 322.85L442.07 321.28L444.09 319.63L446.19 317.89L448.34 316.06L450.51 314.15L452.71 312.18L454.95 310.15L457.22 308.07L459.53 305.95L461.87 303.78L464.25 301.58L466.68 299.34L469.22 296.98L471.91 294.47L474.69 291.86L477.52 289.19L480.36 286.5L483.18 283.84L485.93 281.24L488.57 278.76L491.06 276.43L493.38 274.29L495.55 272.29L497.62 270.37L499.58 268.55L501.44 266.84L503.21 265.22L504.88 263.72L506.46 262.33L507.96 261.04L509.38 259.88L510.71 258.83L511.94 257.91L513.04 257.16L514.02 256.53L514.91 256L515.75 255.54L516.58 255.12L517.43 254.73L518.35 254.32L519.35 253.89L520.39 253.45L521.4 253.04L522.4 252.66L523.43 252.3L524.5 251.96L525.56 251.64L526.62 251.34L527.66 251.07L528.65 250.82L529.59 250.6L530.43 250.41L531.1 250.28L531.62 250.2L532.07 250.14L532.49 250.11L532.92 250.09L533.39 250.08L533.95 250.08L534.62 250.08L535.38 250.07L536.2 250.05L536.99 250.02L537.78 250L538.62 249.99L539.48 249.98L540.37 249.97L541.27 249.96L542.16 249.96L543.04 249.96L543.91 249.95L544.73 249.95L545.54 249.95L546.38 249.94L547.23 249.94L548.07 249.94L548.88 249.94L549.66 249.95L550.38 249.95L551.01 249.95L551.56 249.95L551.99 249.95Z" fill="#fff" stroke="none"/>
<path d="M552.01 237.05L551.58 237.05L551.04 237.05L550.41 237.05L549.69 237.05L548.9 237.04L548.08 237.04L547.22 237.04L546.35 237.04L545.49 237.05L544.67 237.05L543.85 237.05L543 237.06L542.11 237.06L541.2 237.06L540.28 237.07L539.35 237.08L538.43 237.09L537.51 237.1L536.62 237.13L535.8 237.15L535.13 237.17L534.53 237.18L533.91 237.18L533.24 237.18L532.5 237.2L531.68 237.23L530.79 237.31L529.83 237.42L528.82 237.58L527.77 237.79L526.72 238.02L525.62 238.28L524.45 238.57L523.23 238.89L521.96 239.25L520.66 239.64L519.34 240.07L518.01 240.53L516.67 241.03L515.41 241.55L514.28 242.03L513.21 242.49L512.11 242.97L510.97 243.51L509.77 244.11L508.53 244.79L507.22 245.56L505.86 246.44L504.42 247.44L502.89 248.57L501.29 249.83L499.66 251.17L498 252.59L496.3 254.09L494.54 255.67L492.72 257.33L490.83 259.08L488.86 260.9L486.79 262.81L484.62 264.81L482.28 266.98L479.75 269.35L477.08 271.85L474.32 274.46L471.5 277.13L468.66 279.81L465.84 282.47L463.09 285.06L460.44 287.53L457.92 289.86L455.49 292.1L453.11 294.31L450.77 296.47L448.49 298.58L446.26 300.62L444.08 302.59L441.96 304.49L439.89 306.31L437.88 308.03L435.91 309.67L433.96 311.24L432.08 312.76L430.26 314.19L428.51 315.53L426.81 316.8L425.16 317.97L423.56 319.06L422 320.06L420.48 320.97L419 321.79L417.58 322.49L416.2 323.1L414.83 323.63L413.45 324.09L412.05 324.51L410.62 324.89L409.16 325.25L407.66 325.6L406.11 325.95L404.55 326.32L403.04 326.66L401.58 326.98L400.16 327.28L398.77 327.54L397.4 327.77L396.06 327.97L394.75 328.13L393.47 328.24L392.2 328.32L390.96 328.35L389.72 328.33L388.46 328.27L387.16 328.16L385.85 328.01L384.53 327.83L383.2 327.61L381.87 327.37L380.56 327.1L379.26 326.82L378.02 326.53L376.9 326.25L375.87 325.95L374.88 325.64L373.9 325.29L372.9 324.92L371.85 324.51L370.74 324.06L369.54 323.57L368.25 323.05L366.85 322.49L365.33 321.91L363.73 321.31L362.09 320.69L360.42 320.06L358.77 319.42L357.14 318.77L355.59 318.11L354.15 317.46L352.85 316.83L351.72 316.21L350.71 315.59L349.73 314.93L348.79 314.24L347.88 313.51L347 312.76L346.12 311.97L345.25 311.15L344.38 310.31L343.49 309.45L342.63 308.61L341.85 307.83L341.13 307.08L340.44 306.32L339.77 305.55L339.12 304.78L338.49 304.01L337.87 303.23L337.27 302.45L336.68 301.66L336.11 300.9L335.61 300.2L335.14 299.51L334.69 298.81L334.25 298.1L333.82 297.38L333.39 296.65L332.97 295.91L332.54 295.16L332.11 294.41L331.67 293.65L331.25 292.94L330.88 292.31L330.54 291.75L330.24 291.25L329.97 290.77L329.7 290.3L329.43 289.79L329.14 289.23L328.82 288.57L328.45 287.78L328.02 286.84L327.53 285.77L327.01 284.6L326.48 283.37L325.94 282.12L325.41 280.86L324.91 279.63L324.45 278.46L324.04 277.38L323.71 276.43L323.43 275.58L323.2 274.81L323 274.12L322.84 273.48L322.7 272.86L322.58 272.22L322.46 271.55L322.34 270.8L322.22 269.96L322.09 269.02L321.95 267.98L321.8 266.91L321.66 265.82L321.54 264.72L321.42 263.62L321.33 262.52L321.26 261.44L321.22 260.39L321.21 259.38L321.24 258.45L321.32 257.49L321.45 256.39L321.64 255.16L321.87 253.88L322.12 252.57L322.38 251.3L322.64 250.1L322.88 248.99L323.08 248L323.23 247.22M551.99 249.95L551.56 249.95L551.01 249.95L550.38 249.95L549.66 249.95L548.88 249.94L548.07 249.94L547.23 249.94L546.38 249.94L545.54 249.95L544.73 249.95L543.91 249.95L543.04 249.96L542.16 249.96L541.27 249.96L540.37 249.97L539.48 249.98L538.62 249.99L537.78 250L536.99 250.02L536.2 250.05L535.38 250.07L534.62 250.08L533.95 250.08L533.39 250.08L532.92 250.09L532.49 250.11L532.07 250.14L531.62 250.2L531.1 250.28L530.43 250.41L529.59 250.6L528.65 250.82L527.66 251.07L526.62 251.34L525.56 251.64L524.5 251.96L523.43 252.3L522.4 252.66L521.4 253.04L520.39 253.45L519.35 253.89L518.35 254.32L517.43 254.73L516.58 255.12L515.75 255.54L514.91 256L514.02 256.53L513.04 257.16L511.94 257.91L510.71 258.83L509.38 259.88L507.96 261.04L506.46 262.33L504.88 263.72L503.21 265.22L501.44 266.84L499.58 268.55L497.62 270.37L495.55 272.29L493.38 274.29L491.06 276.43L488.57 278.76L485.93 281.24L483.18 283.84L480.36 286.5L477.52 289.19L474.69 291.86L471.91 294.47L469.22 296.98L466.68 299.34L464.25 301.58L461.87 303.78L459.53 305.95L457.22 308.07L454.95 310.15L452.71 312.18L450.51 314.15L448.34 316.06L446.19 317.89L444.09 319.63L442.07 321.28L440.11 322.85L438.18 324.37L436.28 325.83L434.4 327.22L432.54 328.55L430.67 329.82L428.8 331.02L426.92 332.15L425 333.21L423.04 334.18L421.11 335.03L419.22 335.76L417.37 336.38L415.58 336.92L413.84 337.39L412.17 337.8L410.55 338.18L408.99 338.53L407.45 338.88L405.88 339.25L404.27 339.6L402.66 339.93L401.04 340.24L399.41 340.52L397.77 340.76L396.11 340.95L394.44 341.11L392.75 341.21L391.04 341.25L389.31 341.23L387.6 341.14L385.9 341L384.24 340.81L382.6 340.58L380.99 340.32L379.43 340.03L377.91 339.73L376.43 339.4L374.98 339.07L373.53 338.7L372.13 338.3L370.8 337.87L369.52 337.43L368.29 336.97L367.09 336.5L365.89 336.02L364.69 335.53L363.45 335.02L362.15 334.51L360.74 333.96L359.2 333.38L357.55 332.76L355.81 332.11L354.03 331.42L352.23 330.7L350.44 329.94L348.66 329.14L346.93 328.29L345.28 327.39L343.73 326.44L342.29 325.47L340.94 324.47L339.68 323.47L338.5 322.47L337.4 321.48L336.37 320.51L335.4 319.57L334.48 318.68L333.57 317.79L332.63 316.86L331.71 315.89L330.82 314.92L329.98 313.96L329.18 313.02L328.42 312.08L327.7 311.16L327 310.26L326.34 309.38L325.69 308.5L325.03 307.57L324.39 306.64L323.79 305.72L323.24 304.82L322.72 303.95L322.23 303.12L321.77 302.32L321.34 301.55L320.92 300.83L320.53 300.15L320.16 299.52L319.8 298.93L319.46 298.35L319.11 297.77L318.76 297.15L318.39 296.49L318.01 295.78L317.61 295L317.19 294.15L316.75 293.22L316.28 292.18L315.76 291.04L315.21 289.81L314.64 288.51L314.06 287.16L313.49 285.79L312.93 284.43L312.41 283.09L311.92 281.79L311.49 280.57L311.13 279.46L310.81 278.42L310.54 277.43L310.29 276.46L310.08 275.52L309.9 274.59L309.74 273.67L309.59 272.74L309.45 271.78L309.31 270.78L309.16 269.72L309.01 268.59L308.86 267.39L308.71 266.13L308.58 264.82L308.46 263.47L308.38 262.09L308.32 260.67L308.31 259.23L308.36 257.75L308.48 256.2L308.67 254.62L308.91 253.06L309.18 251.53L309.47 250.05L309.75 248.66L310.02 247.4L310.26 246.31L310.44 245.44L310.57 244.78" fill="none" stroke="#111" stroke-width="1.1"/>
<circle cx="356.5" cy="256.6" r="47.3" class="w"/>
<circle cx="356.5" cy="256.6" r="18.3" class="l"/>
<path class="l" d="M373.41 263.6 L400.2 274.7M363.5 273.51 L374.6 300.3M349.5 273.51 L338.4 300.3M339.59 263.6 L312.8 274.7M339.59 249.6 L312.8 238.5M349.5 239.69 L338.4 212.9M363.5 239.69 L374.6 212.9M373.41 249.6 L400.2 238.5"/>
<path d="M516.5 196.4L514.34 196.4L511.59 196.4L508.34 196.4L504.7 196.4L500.75 196.4L496.6 196.4L492.36 196.4L488.11 196.4L483.96 196.4L480 196.4L476.04 196.4L471.87 196.4L467.56 196.4L463.2 196.4L458.84 196.4L454.58 196.4L450.49 196.4L446.65 196.4L443.12 196.4L440 196.4L437.26 196.4L434.84 196.41L432.7 196.42L430.8 196.43L429.1 196.44L427.55 196.44L426.13 196.44L424.78 196.44L423.47 196.42L422.14 196.4L420.85 196.37L419.72 196.34L418.71 196.3L417.8 196.26L416.97 196.22L416.17 196.17L415.39 196.1L414.57 196.03L413.69 195.94L412.73 195.84L411.68 195.72L410.61 195.6L409.52 195.47L408.44 195.33L407.37 195.18L406.32 195.02L405.3 194.86L404.34 194.68L403.45 194.49L402.61 194.3L401.8 194.08L401.02 193.86L400.28 193.64L399.59 193.41L398.92 193.17L398.27 192.92L397.63 192.65L396.98 192.35L396.32 192.03L395.64 191.68L394.96 191.31L394.27 190.91L393.57 190.48L392.88 190.04L392.18 189.57L391.49 189.07L390.8 188.56L390.12 188.03L389.44 187.49L388.78 186.93L388.12 186.35L387.47 185.75L386.81 185.11L386.16 184.46L385.51 183.79L384.87 183.1L384.24 182.4L383.63 181.69L383.04 180.98L382.49 180.29L381.98 179.62L381.49 178.92L380.99 178.17L380.49 177.38L379.98 176.56L379.47 175.72L378.96 174.86L378.44 173.99L377.92 173.12L377.4 172.28L376.95 171.55L376.55 170.9L376.18 170.28L375.82 169.68L375.46 169.06L375.08 168.43L374.67 167.75L374.23 167.01L373.74 166.2L373.2 165.33L372.62 164.38L371.98 163.36L371.31 162.25L370.59 161.09L369.85 159.9L369.09 158.68L368.33 157.47L367.56 156.27L366.79 155.1L366.05 153.99L365.34 152.95L364.64 151.94L363.94 150.94L363.23 149.95L362.52 148.98L361.81 148.01L361.07 147.05L360.33 146.1L359.57 145.17L358.79 144.25L358.02 143.36L357.25 142.49L356.46 141.62L355.65 140.76L354.83 139.91L353.99 139.08L353.14 138.26L352.26 137.46L351.37 136.69L350.45 135.94L349.52 135.23L348.58 134.56L347.64 133.93L346.71 133.34L345.78 132.79L344.86 132.27L343.94 131.79L343.04 131.34L342.15 130.91L341.23 130.48L340.23 130.05L339.2 129.65L338.18 129.29L337.2 128.97L336.24 128.67L335.33 128.41L334.47 128.17L333.68 127.95L332.96 127.76L332.31 127.58L331.66 127.4L331.03 127.24L330.43 127.1L329.86 126.97L329.32 126.87L328.79 126.77L328.3 126.69L327.82 126.62L327.36 126.55L326.88 126.49L326.35 126.42L325.8 126.36L325.26 126.3L324.71 126.25L324.16 126.21L323.61 126.17L323.06 126.14L322.51 126.12L321.96 126.11L321.41 126.1L320.86 126.1L320.32 126.11L319.77 126.12L319.22 126.14L318.67 126.17L318.12 126.2L317.57 126.24L317.02 126.29L316.47 126.35L315.93 126.41L315.38 126.48L314.84 126.56L314.3 126.64L313.75 126.73L313.21 126.83L312.67 126.93L312.13 127.04L311.6 127.16L311.06 127.28L310.53 127.41L310 127.55L309.46 127.7L308.94 127.85L308.41 128.01L307.89 128.17L307.36 128.34L306.84 128.52L306.32 128.71L305.81 128.9L305.3 129.09L304.79 129.3L304.28 129.51L303.77 129.73L303.27 129.95L302.77 130.18L302.28 130.42L301.78 130.66L301.29 130.91L300.8 131.16L300.32 131.43L299.84 131.69L299.36 131.97L298.89 132.25L298.42 132.53L297.96 132.82L297.49 133.12L297.03 133.42L296.58 133.73L296.13 134.05L295.68 134.37L295.24 134.7L294.8 135.03L294.37 135.36L293.94 135.71L293.51 136.06L293.09 136.41L292.68 136.77L292.26 137.13L291.86 137.5L291.45 137.88L291.06 138.26L290.66 138.64L290.28 139.03L289.89 139.43L289.52 139.83L289.14 140.23L288.78 140.64L288.41 141.05L288.06 141.47L287.71 141.89L287.36 142.32L287.02 142.75L286.68 143.19L286.36 143.63L286.03 144.07L285.71 144.52L285.4 144.97L285.09 145.43L284.79 145.89L284.5 146.35L284.21 146.82L283.93 147.29L283.65 147.77L283.38 148.25L283.11 148.73L282.85 149.21L282.6 149.7L282.35 150.19L282.11 150.69L281.88 151.19L281.65 151.69L281.43 152.19L281.22 152.7L281.01 153.2L280.81 153.72L280.61 154.23L280.43 154.75L280.24 155.27L280.07 155.79L279.9 156.31L279.74 156.83L279.58 157.36L279.43 157.89L279.29 158.42L279.16 158.96L279.03 159.49L278.91 160.03L278.79 160.56L278.68 161.1L278.58 161.64L278.49 162.19L278.4 162.73L278.32 163.27L278.25 163.82L278.18 164.36L278.12 164.91L278.07 165.46L278.03 166L277.99 166.55L277.96 167.1L277.93 167.65L277.91 168.2L277.9 168.75L277.9 169.3L277.9 169.85L277.91 170.4L277.93 170.95L277.96 171.5L277.99 172.05L278.03 172.6L278.07 173.14L278.12 173.69L278.18 174.24L278.25 174.78L278.32 175.33L278.4 175.87L278.49 176.41L278.58 176.96L278.68 177.5L278.79 178.04L278.91 178.57L279.03 179.11L279.16 179.64L279.29 180.18L279.43 180.71L279.58 181.24L279.74 181.77L279.9 182.29L280.07 182.81L280.24 183.33L280.43 183.85L280.61 184.37L280.81 184.88L281.01 185.4L281.22 185.9L281.43 186.41L281.65 186.91L281.88 187.41L282.12 187.91L282.36 188.41L282.6 188.9L282.85 189.39L283.11 189.87L283.38 190.35L283.65 190.83L283.93 191.31L284.21 191.78L284.5 192.25L284.79 192.71L285.09 193.17L285.4 193.63L285.71 194.08L286.03 194.53L286.35 194.97L286.68 195.41L287.02 195.85L287.36 196.28L287.71 196.71L288.06 197.13L288.41 197.55L288.78 197.96L289.14 198.37L289.52 198.77L289.89 199.17L290.28 199.57L290.66 199.96L291.06 200.34L291.45 200.72L291.86 201.1L292.26 201.47L292.68 201.83L293.09 202.19L293.51 202.54L293.94 202.89L294.37 203.24L294.8 203.57L295.24 203.9L295.68 204.23L296.13 204.55L296.58 204.87L297.03 205.18L297.49 205.48L297.95 205.78L298.42 206.07L298.89 206.35L299.36 206.63L299.84 206.91L300.32 207.17L300.81 207.44L301.32 207.7L301.88 207.98L302.47 208.26L303.04 208.52L303.6 208.76L304.14 208.99L304.64 209.2L305.09 209.39L305.47 209.55L305.77 209.67L305.99 209.76L311.24 197.44L310.96 197.31L310.59 197.16L310.2 197L309.78 196.83L309.34 196.64L308.9 196.46L308.47 196.27L308.07 196.09L307.71 195.92L307.41 195.77L307.1 195.61L306.77 195.43L306.44 195.24L306.11 195.05L305.78 194.86L305.45 194.66L305.13 194.46L304.81 194.26L304.5 194.05L304.19 193.83L303.88 193.62L303.57 193.4L303.26 193.17L302.96 192.94L302.66 192.71L302.36 192.47L302.07 192.23L301.78 191.99L301.49 191.74L301.21 191.49L300.93 191.24L300.65 190.98L300.38 190.71L300.11 190.45L299.84 190.18L299.57 189.91L299.31 189.63L299.05 189.35L298.8 189.07L298.55 188.79L298.31 188.5L298.07 188.21L297.83 187.91L297.59 187.61L297.36 187.31L297.13 187.01L296.91 186.7L296.69 186.39L296.47 186.08L296.26 185.77L296.06 185.45L295.85 185.13L295.65 184.81L295.46 184.48L295.27 184.15L295.08 183.82L294.9 183.49L294.72 183.15L294.54 182.82L294.37 182.48L294.21 182.14L294.05 181.8L293.89 181.45L293.74 181.1L293.59 180.75L293.45 180.4L293.31 180.05L293.17 179.69L293.04 179.34L292.92 178.98L292.8 178.62L292.68 178.26L292.57 177.9L292.46 177.54L292.36 177.17L292.26 176.8L292.17 176.43L292.08 176.06L291.99 175.7L291.92 175.33L291.84 174.96L291.77 174.58L291.71 174.21L291.65 173.83L291.59 173.46L291.54 173.08L291.5 172.7L291.45 172.33L291.42 171.95L291.39 171.57L291.36 171.2L291.34 170.82L291.32 170.44L291.31 170.06L291.3 169.68L291.3 169.3L291.3 168.92L291.31 168.54L291.32 168.16L291.34 167.78L291.36 167.41L291.39 167.03L291.42 166.65L291.45 166.27L291.5 165.89L291.54 165.52L291.59 165.14L291.65 164.76L291.71 164.39L291.77 164.02L291.84 163.65L291.92 163.28L291.99 162.9L292.08 162.53L292.17 162.16L292.26 161.8L292.36 161.43L292.46 161.06L292.57 160.7L292.68 160.34L292.8 159.98L292.92 159.62L293.04 159.26L293.17 158.91L293.31 158.55L293.45 158.2L293.59 157.84L293.74 157.5L293.89 157.15L294.05 156.8L294.21 156.46L294.37 156.12L294.54 155.78L294.72 155.44L294.9 155.11L295.08 154.78L295.27 154.45L295.46 154.12L295.65 153.79L295.85 153.47L296.05 153.15L296.26 152.84L296.47 152.52L296.69 152.21L296.91 151.9L297.13 151.59L297.36 151.29L297.59 150.99L297.83 150.69L298.06 150.4L298.31 150.1L298.55 149.82L298.8 149.53L299.06 149.25L299.31 148.97L299.57 148.69L299.84 148.42L300.11 148.15L300.38 147.89L300.65 147.62L300.93 147.37L301.21 147.11L301.49 146.86L301.78 146.61L302.07 146.37L302.36 146.13L302.66 145.89L302.96 145.66L303.26 145.43L303.57 145.2L303.87 144.98L304.18 144.77L304.5 144.55L304.81 144.34L305.13 144.14L305.46 143.94L305.78 143.74L306.11 143.55L306.44 143.36L306.77 143.17L307.1 142.99L307.43 142.82L307.77 142.65L308.11 142.48L308.46 142.32L308.8 142.16L309.15 142L309.5 141.85L309.85 141.71L310.2 141.57L310.55 141.43L310.91 141.3L311.26 141.17L311.62 141.05L311.98 140.93L312.35 140.81L312.71 140.71L313.08 140.6L313.44 140.5L313.81 140.41L314.17 140.32L314.54 140.23L314.91 140.15L315.29 140.07L315.66 140L316.03 139.93L316.41 139.87L316.78 139.81L317.16 139.76L317.53 139.71L317.91 139.67L318.29 139.63L318.66 139.6L319.04 139.57L319.42 139.55L319.8 139.53L320.18 139.51L320.56 139.5L320.94 139.5L321.32 139.5L321.69 139.51L322.07 139.52L322.45 139.53L322.83 139.55L323.21 139.58L323.59 139.6L323.97 139.64L324.35 139.68L324.72 139.72L325.12 139.77L325.52 139.83L325.89 139.88L326.22 139.93L326.52 139.98L326.81 140.03L327.11 140.09L327.43 140.16L327.81 140.25L328.25 140.36L328.79 140.51L329.45 140.69L330.17 140.88L330.91 141.08L331.65 141.29L332.4 141.51L333.14 141.74L333.85 141.97L334.53 142.21L335.16 142.46L335.77 142.72L336.43 143.02L337.11 143.35L337.79 143.69L338.45 144.04L339.09 144.4L339.72 144.78L340.35 145.17L340.96 145.58L341.56 146.01L342.15 146.46L342.75 146.95L343.37 147.48L344 148.06L344.64 148.67L345.29 149.32L345.95 150L346.61 150.71L347.28 151.44L347.95 152.19L348.61 152.95L349.24 153.71L349.86 154.47L350.48 155.26L351.1 156.07L351.73 156.91L352.35 157.78L352.99 158.67L353.64 159.59L354.29 160.54L354.95 161.51L355.62 162.5L356.31 163.55L357.02 164.67L357.75 165.81L358.47 166.98L359.19 168.14L359.89 169.27L360.57 170.37L361.21 171.42L361.8 172.37L362.31 173.21L362.77 173.95L363.18 174.63L363.56 175.27L363.93 175.9L364.3 176.52L364.68 177.17L365.09 177.84L365.53 178.57L366 179.32L366.46 180.07L366.94 180.87L367.44 181.72L367.98 182.62L368.55 183.55L369.14 184.52L369.78 185.51L370.45 186.51L371.17 187.53L371.91 188.51L372.65 189.44L373.4 190.34L374.17 191.24L374.96 192.12L375.77 192.99L376.59 193.84L377.43 194.68L378.28 195.5L379.15 196.3L380.02 197.07L380.9 197.82L381.8 198.54L382.7 199.24L383.62 199.92L384.56 200.58L385.5 201.22L386.45 201.83L387.41 202.42L388.38 202.98L389.36 203.52L390.33 204.02L391.29 204.48L392.26 204.92L393.23 205.33L394.22 205.72L395.21 206.08L396.22 206.41L397.25 206.72L398.3 207.02L399.39 207.3L400.56 207.58L401.77 207.83L402.99 208.05L404.22 208.26L405.45 208.44L406.67 208.61L407.87 208.77L409.04 208.91L410.18 209.04L411.27 209.16L412.32 209.27L413.3 209.37L414.26 209.46L415.2 209.53L416.16 209.59L417.14 209.65L418.18 209.69L419.29 209.73L420.51 209.77L421.86 209.8L423.28 209.82L424.69 209.84L426.11 209.84L427.58 209.84L429.15 209.84L430.87 209.83L432.76 209.82L434.89 209.81L437.29 209.8L440 209.8L443.12 209.8L446.65 209.8L450.49 209.8L454.58 209.8L458.84 209.8L463.2 209.8L467.56 209.8L471.87 209.8L476.04 209.8L480 209.8L483.96 209.8L488.11 209.8L492.36 209.8L496.6 209.8L500.75 209.8L504.7 209.8L508.34 209.8L511.59 209.8L514.34 209.8L516.5 209.8Z" fill="#fff" stroke="none"/>
<path d="M516.5 196.4L514.34 196.4L511.59 196.4L508.34 196.4L504.7 196.4L500.75 196.4L496.6 196.4L492.36 196.4L488.11 196.4L483.96 196.4L480 196.4L476.04 196.4L471.87 196.4L467.56 196.4L463.2 196.4L458.84 196.4L454.58 196.4L450.49 196.4L446.65 196.4L443.12 196.4L440 196.4L437.26 196.4L434.84 196.41L432.7 196.42L430.8 196.43L429.1 196.44L427.55 196.44L426.13 196.44L424.78 196.44L423.47 196.42L422.14 196.4L420.85 196.37L419.72 196.34L418.71 196.3L417.8 196.26L416.97 196.22L416.17 196.17L415.39 196.1L414.57 196.03L413.69 195.94L412.73 195.84L411.68 195.72L410.61 195.6L409.52 195.47L408.44 195.33L407.37 195.18L406.32 195.02L405.3 194.86L404.34 194.68L403.45 194.49L402.61 194.3L401.8 194.08L401.02 193.86L400.28 193.64L399.59 193.41L398.92 193.17L398.27 192.92L397.63 192.65L396.98 192.35L396.32 192.03L395.64 191.68L394.96 191.31L394.27 190.91L393.57 190.48L392.88 190.04L392.18 189.57L391.49 189.07L390.8 188.56L390.12 188.03L389.44 187.49L388.78 186.93L388.12 186.35L387.47 185.75L386.81 185.11L386.16 184.46L385.51 183.79L384.87 183.1L384.24 182.4L383.63 181.69L383.04 180.98L382.49 180.29L381.98 179.62L381.49 178.92L380.99 178.17L380.49 177.38L379.98 176.56L379.47 175.72L378.96 174.86L378.44 173.99L377.92 173.12L377.4 172.28L376.95 171.55L376.55 170.9L376.18 170.28L375.82 169.68L375.46 169.06L375.08 168.43L374.67 167.75L374.23 167.01L373.74 166.2L373.2 165.33L372.62 164.38L371.98 163.36L371.31 162.25L370.59 161.09L369.85 159.9L369.09 158.68L368.33 157.47L367.56 156.27L366.79 155.1L366.05 153.99L365.34 152.95L364.64 151.94L363.94 150.94L363.23 149.95L362.52 148.98L361.81 148.01L361.07 147.05L360.33 146.1L359.57 145.17L358.79 144.25L358.02 143.36L357.25 142.49L356.46 141.62L355.65 140.76L354.83 139.91L353.99 139.08L353.14 138.26L352.26 137.46L351.37 136.69L350.45 135.94L349.52 135.23L348.58 134.56L347.64 133.93L346.71 133.34L345.78 132.79L344.86 132.27L343.94 131.79L343.04 131.34L342.15 130.91L341.23 130.48L340.23 130.05L339.2 129.65L338.18 129.29L337.2 128.97L336.24 128.67L335.33 128.41L334.47 128.17L333.68 127.95L332.96 127.76L332.31 127.58L331.66 127.4L331.03 127.24L330.43 127.1L329.86 126.97L329.32 126.87L328.79 126.77L328.3 126.69L327.82 126.62L327.36 126.55L326.88 126.49L326.35 126.42L325.8 126.36L325.26 126.3L324.71 126.25L324.16 126.21L323.61 126.17L323.06 126.14L322.51 126.12L321.96 126.11L321.41 126.1L320.86 126.1L320.32 126.11L319.77 126.12L319.22 126.14L318.67 126.17L318.12 126.2L317.57 126.24L317.02 126.29L316.47 126.35L315.93 126.41L315.38 126.48L314.84 126.56L314.3 126.64L313.75 126.73L313.21 126.83L312.67 126.93L312.13 127.04L311.6 127.16L311.06 127.28L310.53 127.41L310 127.55L309.46 127.7L308.94 127.85L308.41 128.01L307.89 128.17L307.36 128.34L306.84 128.52L306.32 128.71L305.81 128.9L305.3 129.09L304.79 129.3L304.28 129.51L303.77 129.73L303.27 129.95L302.77 130.18L302.28 130.42L301.78 130.66L301.29 130.91L300.8 131.16L300.32 131.43L299.84 131.69L299.36 131.97L298.89 132.25L298.42 132.53L297.96 132.82L297.49 133.12L297.03 133.42L296.58 133.73L296.13 134.05L295.68 134.37L295.24 134.7L294.8 135.03L294.37 135.36L293.94 135.71L293.51 136.06L293.09 136.41L292.68 136.77L292.26 137.13L291.86 137.5L291.45 137.88L291.06 138.26L290.66 138.64L290.28 139.03L289.89 139.43L289.52 139.83L289.14 140.23L288.78 140.64L288.41 141.05L288.06 141.47L287.71 141.89L287.36 142.32L287.02 142.75L286.68 143.19L286.36 143.63L286.03 144.07L285.71 144.52L285.4 144.97L285.09 145.43L284.79 145.89L284.5 146.35L284.21 146.82L283.93 147.29L283.65 147.77L283.38 148.25L283.11 148.73L282.85 149.21L282.6 149.7L282.35 150.19L282.11 150.69L281.88 151.19L281.65 151.69L281.43 152.19L281.22 152.7L281.01 153.2L280.81 153.72L280.61 154.23L280.43 154.75L280.24 155.27L280.07 155.79L279.9 156.31L279.74 156.83L279.58 157.36L279.43 157.89L279.29 158.42L279.16 158.96L279.03 159.49L278.91 160.03L278.79 160.56L278.68 161.1L278.58 161.64L278.49 162.19L278.4 162.73L278.32 163.27L278.25 163.82L278.18 164.36L278.12 164.91L278.07 165.46L278.03 166L277.99 166.55L277.96 167.1L277.93 167.65L277.91 168.2L277.9 168.75L277.9 169.3L277.9 169.85L277.91 170.4L277.93 170.95L277.96 171.5L277.99 172.05L278.03 172.6L278.07 173.14L278.12 173.69L278.18 174.24L278.25 174.78L278.32 175.33L278.4 175.87L278.49 176.41L278.58 176.96L278.68 177.5L278.79 178.04L278.91 178.57L279.03 179.11L279.16 179.64L279.29 180.18L279.43 180.71L279.58 181.24L279.74 181.77L279.9 182.29L280.07 182.81L280.24 183.33L280.43 183.85L280.61 184.37L280.81 184.88L281.01 185.4L281.22 185.9L281.43 186.41L281.65 186.91L281.88 187.41L282.12 187.91L282.36 188.41L282.6 188.9L282.85 189.39L283.11 189.87L283.38 190.35L283.65 190.83L283.93 191.31L284.21 191.78L284.5 192.25L284.79 192.71L285.09 193.17L285.4 193.63L285.71 194.08L286.03 194.53L286.35 194.97L286.68 195.41L287.02 195.85L287.36 196.28L287.71 196.71L288.06 197.13L288.41 197.55L288.78 197.96L289.14 198.37L289.52 198.77L289.89 199.17L290.28 199.57L290.66 199.96L291.06 200.34L291.45 200.72L291.86 201.1L292.26 201.47L292.68 201.83L293.09 202.19L293.51 202.54L293.94 202.89L294.37 203.24L294.8 203.57L295.24 203.9L295.68 204.23L296.13 204.55L296.58 204.87L297.03 205.18L297.49 205.48L297.95 205.78L298.42 206.07L298.89 206.35L299.36 206.63L299.84 206.91L300.32 207.17L300.81 207.44L301.32 207.7L301.88 207.98L302.47 208.26L303.04 208.52L303.6 208.76L304.14 208.99L304.64 209.2L305.09 209.39L305.47 209.55L305.77 209.67L305.99 209.76M516.5 209.8L514.34 209.8L511.59 209.8L508.34 209.8L504.7 209.8L500.75 209.8L496.6 209.8L492.36 209.8L488.11 209.8L483.96 209.8L480 209.8L476.04 209.8L471.87 209.8L467.56 209.8L463.2 209.8L458.84 209.8L454.58 209.8L450.49 209.8L446.65 209.8L443.12 209.8L440 209.8L437.29 209.8L434.89 209.81L432.76 209.82L430.87 209.83L429.15 209.84L427.58 209.84L426.11 209.84L424.69 209.84L423.28 209.82L421.86 209.8L420.51 209.77L419.29 209.73L418.18 209.69L417.14 209.65L416.16 209.59L415.2 209.53L414.26 209.46L413.3 209.37L412.32 209.27L411.27 209.16L410.18 209.04L409.04 208.91L407.87 208.77L406.67 208.61L405.45 208.44L404.22 208.26L402.99 208.05L401.77 207.83L400.56 207.58L399.39 207.3L398.3 207.02L397.25 206.72L396.22 206.41L395.21 206.08L394.22 205.72L393.23 205.33L392.26 204.92L391.29 204.48L390.33 204.02L389.36 203.52L388.38 202.98L387.41 202.42L386.45 201.83L385.5 201.22L384.56 200.58L383.62 199.92L382.7 199.24L381.8 198.54L380.9 197.82L380.02 197.07L379.15 196.3L378.28 195.5L377.43 194.68L376.59 193.84L375.77 192.99L374.96 192.12L374.17 191.24L373.4 190.34L372.65 189.44L371.91 188.51L371.17 187.53L370.45 186.51L369.78 185.51L369.14 184.52L368.55 183.55L367.98 182.62L367.44 181.72L366.94 180.87L366.46 180.07L366 179.32L365.53 178.57L365.09 177.84L364.68 177.17L364.3 176.52L363.93 175.9L363.56 175.27L363.18 174.63L362.77 173.95L362.31 173.21L361.8 172.37L361.21 171.42L360.57 170.37L359.89 169.27L359.19 168.14L358.47 166.98L357.75 165.81L357.02 164.67L356.31 163.55L355.62 162.5L354.95 161.51L354.29 160.54L353.64 159.59L352.99 158.67L352.35 157.78L351.73 156.91L351.1 156.07L350.48 155.26L349.86 154.47L349.24 153.71L348.61 152.95L347.95 152.19L347.28 151.44L346.61 150.71L345.95 150L345.29 149.32L344.64 148.67L344 148.06L343.37 147.48L342.75 146.95L342.15 146.46L341.56 146.01L340.96 145.58L340.35 145.17L339.72 144.78L339.09 144.4L338.45 144.04L337.79 143.69L337.11 143.35L336.43 143.02L335.77 142.72L335.16 142.46L334.53 142.21L333.85 141.97L333.14 141.74L332.4 141.51L331.65 141.29L330.91 141.08L330.17 140.88L329.45 140.69L328.79 140.51L328.25 140.36L327.81 140.25L327.43 140.16L327.11 140.09L326.81 140.03L326.52 139.98L326.22 139.93L325.89 139.88L325.52 139.83L325.12 139.77L324.72 139.72L324.35 139.68L323.97 139.64L323.59 139.6L323.21 139.58L322.83 139.55L322.45 139.53L322.07 139.52L321.69 139.51L321.32 139.5L320.94 139.5L320.56 139.5L320.18 139.51L319.8 139.53L319.42 139.55L319.04 139.57L318.66 139.6L318.29 139.63L317.91 139.67L317.53 139.71L317.16 139.76L316.78 139.81L316.41 139.87L316.03 139.93L315.66 140L315.29 140.07L314.91 140.15L314.54 140.23L314.17 140.32L313.81 140.41L313.44 140.5L313.08 140.6L312.71 140.71L312.35 140.81L311.98 140.93L311.62 141.05L311.26 141.17L310.91 141.3L310.55 141.43L310.2 141.57L309.85 141.71L309.5 141.85L309.15 142L308.8 142.16L308.46 142.32L308.11 142.48L307.77 142.65L307.43 142.82L307.1 142.99L306.77 143.17L306.44 143.36L306.11 143.55L305.78 143.74L305.46 143.94L305.13 144.14L304.81 144.34L304.5 144.55L304.18 144.77L303.87 144.98L303.57 145.2L303.26 145.43L302.96 145.66L302.66 145.89L302.36 146.13L302.07 146.37L301.78 146.61L301.49 146.86L301.21 147.11L300.93 147.37L300.65 147.62L300.38 147.89L300.11 148.15L299.84 148.42L299.57 148.69L299.31 148.97L299.06 149.25L298.8 149.53L298.55 149.82L298.31 150.1L298.06 150.4L297.83 150.69L297.59 150.99L297.36 151.29L297.13 151.59L296.91 151.9L296.69 152.21L296.47 152.52L296.26 152.84L296.05 153.15L295.85 153.47L295.65 153.79L295.46 154.12L295.27 154.45L295.08 154.78L294.9 155.11L294.72 155.44L294.54 155.78L294.37 156.12L294.21 156.46L294.05 156.8L293.89 157.15L293.74 157.5L293.59 157.84L293.45 158.2L293.31 158.55L293.17 158.91L293.04 159.26L292.92 159.62L292.8 159.98L292.68 160.34L292.57 160.7L292.46 161.06L292.36 161.43L292.26 161.8L292.17 162.16L292.08 162.53L291.99 162.9L291.92 163.28L291.84 163.65L291.77 164.02L291.71 164.39L291.65 164.76L291.59 165.14L291.54 165.52L291.5 165.89L291.45 166.27L291.42 166.65L291.39 167.03L291.36 167.41L291.34 167.78L291.32 168.16L291.31 168.54L291.3 168.92L291.3 169.3L291.3 169.68L291.31 170.06L291.32 170.44L291.34 170.82L291.36 171.2L291.39 171.57L291.42 171.95L291.45 172.33L291.5 172.7L291.54 173.08L291.59 173.46L291.65 173.83L291.71 174.21L291.77 174.58L291.84 174.96L291.92 175.33L291.99 175.7L292.08 176.06L292.17 176.43L292.26 176.8L292.36 177.17L292.46 177.54L292.57 177.9L292.68 178.26L292.8 178.62L292.92 178.98L293.04 179.34L293.17 179.69L293.31 180.05L293.45 180.4L293.59 180.75L293.74 181.1L293.89 181.45L294.05 181.8L294.21 182.14L294.37 182.48L294.54 182.82L294.72 183.15L294.9 183.49L295.08 183.82L295.27 184.15L295.46 184.48L295.65 184.81L295.85 185.13L296.06 185.45L296.26 185.77L296.47 186.08L296.69 186.39L296.91 186.7L297.13 187.01L297.36 187.31L297.59 187.61L297.83 187.91L298.07 188.21L298.31 188.5L298.55 188.79L298.8 189.07L299.05 189.35L299.31 189.63L299.57 189.91L299.84 190.18L300.11 190.45L300.38 190.71L300.65 190.98L300.93 191.24L301.21 191.49L301.49 191.74L301.78 191.99L302.07 192.23L302.36 192.47L302.66 192.71L302.96 192.94L303.26 193.17L303.57 193.4L303.88 193.62L304.19 193.83L304.5 194.05L304.81 194.26L305.13 194.46L305.45 194.66L305.78 194.86L306.11 195.05L306.44 195.24L306.77 195.43L307.1 195.61L307.41 195.77L307.71 195.92L308.07 196.09L308.47 196.27L308.9 196.46L309.34 196.64L309.78 196.83L310.2 197L310.59 197.16L310.96 197.31L311.24 197.44" fill="none" stroke="#111" stroke-width="1.1"/>
<path class="l" d="M510.9 196.5 L510.9 209.7 M513.6 196.5 L513.6 209.7 M516.5 196.5 L516.5 209.7"/>
<path d="M552 209.4L551.6 209.4L551.13 209.4L550.58 209.4L549.96 209.4L549.27 209.4L548.5 209.4L547.66 209.4L546.75 209.4L545.76 209.4L544.71 209.4L543.53 209.4L542.21 209.39L540.76 209.39L539.22 209.38L537.63 209.37L536.01 209.37L534.39 209.37L532.82 209.37L531.31 209.38L529.9 209.4L528.59 209.42L527.33 209.45L526.09 209.48L524.88 209.51L523.69 209.55L522.52 209.59L521.38 209.65L520.25 209.71L519.14 209.79L518.05 209.87L517.01 209.97L516.03 210.07L515.08 210.19L514.17 210.31L513.27 210.44L512.38 210.59L511.5 210.74L510.61 210.91L509.7 211.09L508.76 211.29L507.79 211.51L506.79 211.74L505.79 211.98L504.78 212.24L503.76 212.5L502.73 212.79L501.69 213.08L500.64 213.39L499.57 213.71L498.51 214.04L497.44 214.38L496.33 214.72L495.19 215.09L494.02 215.47L492.84 215.88L491.63 216.3L490.42 216.74L489.22 217.2L488.01 217.69L486.82 218.2L485.64 218.74L484.51 219.3L483.41 219.87L482.35 220.45L481.33 221.02L480.34 221.59L479.37 222.16L478.42 222.71L477.5 223.25L476.56 223.78L475.61 224.32L474.68 224.85L473.76 225.38L472.84 225.91L471.92 226.44L470.98 226.99L470 227.57L468.98 228.17L467.9 228.81L466.75 229.49L465.61 230.17L464.52 230.82L463.45 231.46L462.35 232.12L461.18 232.83L459.89 233.61L458.44 234.48L456.79 235.49L454.89 236.64L452.7 237.98L450.12 239.55L447.15 241.35L443.88 243.35L440.38 245.48L436.75 247.69L433.08 249.94L429.44 252.16L425.94 254.32L422.64 256.35L419.64 258.21L416.89 259.93L414.27 261.58L411.76 263.17L409.36 264.7L407.06 266.18L404.84 267.61L402.69 269L400.6 270.35L398.56 271.67L396.57 272.96L394.67 274.17L392.88 275.29L391.16 276.36L389.48 277.39L387.83 278.42L386.18 279.47L384.52 280.56L382.83 281.7L381.1 282.92L379.35 284.21L377.6 285.53L375.8 286.89L373.94 288.3L372.05 289.77L370.15 291.3L368.26 292.89L366.39 294.54L364.57 296.25L362.81 298.04L361.18 299.87L359.67 301.71L358.25 303.56L356.89 305.46L355.6 307.4L354.39 309.39L353.24 311.41L352.18 313.48L351.2 315.59L350.3 317.75L349.48 319.99L348.75 322.39L348.16 324.9L347.7 327.42L347.33 329.93L347.04 332.39L346.82 334.76L346.64 337.01L346.5 339.09L346.38 340.94L346.26 342.58L346.17 344.14L346.14 345.64L346.16 347L346.23 348.23L346.33 349.34L346.46 350.32L346.59 351.15L346.7 351.85L346.79 352.4L346.86 352.94L346.95 353.59L347.05 354.29L347.17 354.94L347.3 355.54L347.45 356.1L347.59 356.58L347.71 356.98L347.82 357.31L347.9 357.57L348 357.88L348.12 358.28L348.26 358.74L348.4 359.19L348.55 359.63L348.71 360.08L348.86 360.53L349.03 360.97L349.2 361.41L349.37 361.85L349.55 362.29L349.73 362.72L349.92 363.16L350.11 363.59L350.31 364.02L350.51 364.45L350.72 364.87L350.93 365.3L351.15 365.72L351.37 366.14L351.59 366.55L351.82 366.96L352.06 367.37L352.3 367.78L352.54 368.19L352.79 368.59L353.04 368.99L353.3 369.39L353.56 369.78L353.82 370.18L354.09 370.56L354.36 370.95L354.64 371.33L354.92 371.71L355.21 372.09L355.5 372.46L355.79 372.83L356.09 373.2L356.39 373.57L356.7 373.93L357.01 374.28L357.32 374.64L357.64 374.99L357.96 375.33L358.29 375.68L358.61 376.02L358.95 376.35L359.28 376.69L359.62 377.01L359.97 377.34L360.31 377.66L360.66 377.98L361.02 378.29L361.37 378.6L361.74 378.91L362.1 379.21L362.47 379.51L362.84 379.8L363.21 380.09L363.59 380.38L363.97 380.66L364.35 380.94L364.74 381.21L365.12 381.48L365.52 381.74L365.91 382L366.31 382.26L366.71 382.51L367.11 382.76L367.52 383L367.92 383.24L368.34 383.48L368.75 383.71L369.16 383.93L369.58 384.15L370 384.37L370.43 384.58L370.85 384.79L371.28 384.99L371.71 385.19L372.14 385.38L372.57 385.57L373.01 385.75L373.45 385.93L373.89 386.1L374.33 386.27L374.77 386.44L375.22 386.59L375.67 386.75L376.11 386.9L376.56 387.04L377.02 387.18L377.47 387.32L377.92 387.45L378.38 387.57L378.84 387.69L379.3 387.81L379.76 387.92L380.22 388.02L380.68 388.12L381.17 388.22L381.7 388.32L382.24 388.41L382.78 388.49L383.3 388.57L383.8 388.63L384.26 388.69L384.68 388.75L385.04 388.79L385.32 388.82L385.53 388.85L387.22 376.27L386.95 376.23L386.62 376.19L386.25 376.14L385.86 376.09L385.45 376.04L385.03 375.98L384.62 375.93L384.24 375.87L383.9 375.81L383.6 375.76L383.29 375.69L382.97 375.62L382.64 375.55L382.32 375.47L381.99 375.39L381.67 375.31L381.34 375.22L381.02 375.13L380.7 375.03L380.38 374.93L380.07 374.83L379.75 374.72L379.43 374.61L379.12 374.5L378.8 374.39L378.49 374.27L378.18 374.14L377.87 374.02L377.56 373.89L377.26 373.75L376.95 373.62L376.65 373.48L376.35 373.34L376.04 373.19L375.74 373.04L375.45 372.89L375.15 372.73L374.86 372.57L374.56 372.41L374.28 372.24L373.99 372.08L373.7 371.9L373.42 371.73L373.13 371.55L372.85 371.37L372.57 371.18L372.29 371L372.02 370.81L371.75 370.61L371.48 370.42L371.21 370.22L370.94 370.02L370.68 369.81L370.42 369.6L370.16 369.39L369.9 369.18L369.64 368.96L369.39 368.74L369.14 368.52L368.89 368.3L368.65 368.07L368.41 367.84L368.17 367.61L367.93 367.37L367.69 367.14L367.46 366.89L367.23 366.65L367 366.41L366.78 366.16L366.56 365.91L366.34 365.66L366.12 365.4L365.91 365.14L365.7 364.88L365.49 364.62L365.28 364.36L365.08 364.09L364.88 363.82L364.69 363.55L364.49 363.28L364.3 363.01L364.12 362.73L363.93 362.45L363.75 362.17L363.57 361.89L363.4 361.6L363.22 361.31L363.06 361.02L362.89 360.73L362.73 360.44L362.57 360.15L362.41 359.85L362.26 359.56L362.11 359.26L361.96 358.96L361.82 358.65L361.68 358.35L361.55 358.04L361.41 357.74L361.28 357.43L361.16 357.12L361.03 356.81L360.91 356.5L360.8 356.18L360.69 355.87L360.58 355.55L360.47 355.23L360.37 354.92L360.27 354.6L360.16 354.23L360.03 353.8L359.91 353.41L359.81 353.11L359.74 352.9L359.7 352.75L359.66 352.61L359.62 352.44L359.58 352.2L359.53 351.87L359.46 351.31L359.36 350.56L359.24 349.8L359.13 349.13L359.03 348.52L358.95 347.92L358.89 347.28L358.85 346.55L358.84 345.7L358.86 344.69L358.94 343.42L359.05 341.8L359.17 339.94L359.31 337.94L359.47 335.86L359.67 333.72L359.92 331.58L360.23 329.49L360.59 327.5L361.02 325.67L361.52 324.01L362.12 322.38L362.82 320.72L363.58 319.07L364.42 317.44L365.33 315.83L366.31 314.24L367.35 312.67L368.46 311.12L369.62 309.6L370.82 308.13L372.08 306.72L373.45 305.33L374.94 303.93L376.53 302.52L378.2 301.12L379.93 299.74L381.69 298.36L383.47 297.01L385.24 295.68L386.95 294.39L388.54 293.21L390.05 292.15L391.55 291.13L393.05 290.15L394.59 289.18L396.18 288.18L397.85 287.15L399.6 286.07L401.46 284.9L403.43 283.64L405.45 282.34L407.5 281.02L409.58 279.67L411.72 278.29L413.92 276.87L416.21 275.4L418.58 273.89L421.05 272.32L423.64 270.69L426.36 268.99L429.32 267.15L432.59 265.13L436.08 262.99L439.71 260.77L443.37 258.53L446.99 256.32L450.48 254.19L453.76 252.2L456.73 250.39L459.3 248.82L461.49 247.49L463.38 246.34L465.02 245.34L466.46 244.47L467.73 243.7L468.89 243.01L469.98 242.36L471.03 241.73L472.11 241.08L473.25 240.41L474.39 239.73L475.45 239.1L476.45 238.51L477.4 237.95L478.32 237.41L479.21 236.89L480.09 236.38L480.98 235.88L481.89 235.36L482.84 234.82L483.83 234.25L484.81 233.68L485.77 233.12L486.7 232.58L487.61 232.06L488.5 231.56L489.38 231.08L490.25 230.63L491.11 230.2L491.98 229.8L492.89 229.41L493.86 229.02L494.87 228.64L495.9 228.26L496.96 227.89L498.04 227.52L499.12 227.17L500.19 226.82L501.26 226.49L502.29 226.16L503.28 225.85L504.25 225.56L505.2 225.29L506.13 225.02L507.05 224.77L507.96 224.53L508.85 224.31L509.72 224.09L510.58 223.9L511.44 223.71L512.27 223.53L513.05 223.37L513.8 223.23L514.51 223.11L515.22 222.99L515.93 222.88L516.67 222.79L517.44 222.7L518.26 222.61L519.15 222.53L520.08 222.45L521.04 222.39L522.03 222.33L523.06 222.28L524.14 222.24L525.25 222.2L526.4 222.17L527.6 222.15L528.83 222.12L530.1 222.1L531.43 222.08L532.88 222.07L534.41 222.07L535.99 222.07L537.58 222.07L539.17 222.08L540.7 222.09L542.15 222.09L543.5 222.1L544.69 222.1L545.76 222.1L546.75 222.1L547.66 222.1L548.5 222.1L549.27 222.1L549.96 222.1L550.58 222.1L551.13 222.1L551.6 222.1L552 222.1Z" fill="#fff" stroke="none"/>
<path d="M552 209.4L551.6 209.4L551.13 209.4L550.58 209.4L549.96 209.4L549.27 209.4L548.5 209.4L547.66 209.4L546.75 209.4L545.76 209.4L544.71 209.4L543.53 209.4L542.21 209.39L540.76 209.39L539.22 209.38L537.63 209.37L536.01 209.37L534.39 209.37L532.82 209.37L531.31 209.38L529.9 209.4L528.59 209.42L527.33 209.45L526.09 209.48L524.88 209.51L523.69 209.55L522.52 209.59L521.38 209.65L520.25 209.71L519.14 209.79L518.05 209.87L517.01 209.97L516.03 210.07L515.08 210.19L514.17 210.31L513.27 210.44L512.38 210.59L511.5 210.74L510.61 210.91L509.7 211.09L508.76 211.29L507.79 211.51L506.79 211.74L505.79 211.98L504.78 212.24L503.76 212.5L502.73 212.79L501.69 213.08L500.64 213.39L499.57 213.71L498.51 214.04L497.44 214.38L496.33 214.72L495.19 215.09L494.02 215.47L492.84 215.88L491.63 216.3L490.42 216.74L489.22 217.2L488.01 217.69L486.82 218.2L485.64 218.74L484.51 219.3L483.41 219.87L482.35 220.45L481.33 221.02L480.34 221.59L479.37 222.16L478.42 222.71L477.5 223.25L476.56 223.78L475.61 224.32L474.68 224.85L473.76 225.38L472.84 225.91L471.92 226.44L470.98 226.99L470 227.57L468.98 228.17L467.9 228.81L466.75 229.49L465.61 230.17L464.52 230.82L463.45 231.46L462.35 232.12L461.18 232.83L459.89 233.61L458.44 234.48L456.79 235.49L454.89 236.64L452.7 237.98L450.12 239.55L447.15 241.35L443.88 243.35L440.38 245.48L436.75 247.69L433.08 249.94L429.44 252.16L425.94 254.32L422.64 256.35L419.64 258.21L416.89 259.93L414.27 261.58L411.76 263.17L409.36 264.7L407.06 266.18L404.84 267.61L402.69 269L400.6 270.35L398.56 271.67L396.57 272.96L394.67 274.17L392.88 275.29L391.16 276.36L389.48 277.39L387.83 278.42L386.18 279.47L384.52 280.56L382.83 281.7L381.1 282.92L379.35 284.21L377.6 285.53L375.8 286.89L373.94 288.3L372.05 289.77L370.15 291.3L368.26 292.89L366.39 294.54L364.57 296.25L362.81 298.04L361.18 299.87L359.67 301.71L358.25 303.56L356.89 305.46L355.6 307.4L354.39 309.39L353.24 311.41L352.18 313.48L351.2 315.59L350.3 317.75L349.48 319.99L348.75 322.39L348.16 324.9L347.7 327.42L347.33 329.93L347.04 332.39L346.82 334.76L346.64 337.01L346.5 339.09L346.38 340.94L346.26 342.58L346.17 344.14L346.14 345.64L346.16 347L346.23 348.23L346.33 349.34L346.46 350.32L346.59 351.15L346.7 351.85L346.79 352.4L346.86 352.94L346.95 353.59L347.05 354.29L347.17 354.94L347.3 355.54L347.45 356.1L347.59 356.58L347.71 356.98L347.82 357.31L347.9 357.57L348 357.88L348.12 358.28L348.26 358.74L348.4 359.19L348.55 359.63L348.71 360.08L348.86 360.53L349.03 360.97L349.2 361.41L349.37 361.85L349.55 362.29L349.73 362.72L349.92 363.16L350.11 363.59L350.31 364.02L350.51 364.45L350.72 364.87L350.93 365.3L351.15 365.72L351.37 366.14L351.59 366.55L351.82 366.96L352.06 367.37L352.3 367.78L352.54 368.19L352.79 368.59L353.04 368.99L353.3 369.39L353.56 369.78L353.82 370.18L354.09 370.56L354.36 370.95L354.64 371.33L354.92 371.71L355.21 372.09L355.5 372.46L355.79 372.83L356.09 373.2L356.39 373.57L356.7 373.93L357.01 374.28L357.32 374.64L357.64 374.99L357.96 375.33L358.29 375.68L358.61 376.02L358.95 376.35L359.28 376.69L359.62 377.01L359.97 377.34L360.31 377.66L360.66 377.98L361.02 378.29L361.37 378.6L361.74 378.91L362.1 379.21L362.47 379.51L362.84 379.8L363.21 380.09L363.59 380.38L363.97 380.66L364.35 380.94L364.74 381.21L365.12 381.48L365.52 381.74L365.91 382L366.31 382.26L366.71 382.51L367.11 382.76L367.52 383L367.92 383.24L368.34 383.48L368.75 383.71L369.16 383.93L369.58 384.15L370 384.37L370.43 384.58L370.85 384.79L371.28 384.99L371.71 385.19L372.14 385.38L372.57 385.57L373.01 385.75L373.45 385.93L373.89 386.1L374.33 386.27L374.77 386.44L375.22 386.59L375.67 386.75L376.11 386.9L376.56 387.04L377.02 387.18L377.47 387.32L377.92 387.45L378.38 387.57L378.84 387.69L379.3 387.81L379.76 387.92L380.22 388.02L380.68 388.12L381.17 388.22L381.7 388.32L382.24 388.41L382.78 388.49L383.3 388.57L383.8 388.63L384.26 388.69L384.68 388.75L385.04 388.79L385.32 388.82L385.53 388.85M552 222.1L551.6 222.1L551.13 222.1L550.58 222.1L549.96 222.1L549.27 222.1L548.5 222.1L547.66 222.1L546.75 222.1L545.76 222.1L544.69 222.1L543.5 222.1L542.15 222.09L540.7 222.09L539.17 222.08L537.58 222.07L535.99 222.07L534.41 222.07L532.88 222.07L531.43 222.08L530.1 222.1L528.83 222.12L527.6 222.15L526.4 222.17L525.25 222.2L524.14 222.24L523.06 222.28L522.03 222.33L521.04 222.39L520.08 222.45L519.15 222.53L518.26 222.61L517.44 222.7L516.67 222.79L515.93 222.88L515.22 222.99L514.51 223.11L513.8 223.23L513.05 223.37L512.27 223.53L511.44 223.71L510.58 223.9L509.72 224.09L508.85 224.31L507.96 224.53L507.05 224.77L506.13 225.02L505.2 225.29L504.25 225.56L503.28 225.85L502.29 226.16L501.26 226.49L500.19 226.82L499.12 227.17L498.04 227.52L496.96 227.89L495.9 228.26L494.87 228.64L493.86 229.02L492.89 229.41L491.98 229.8L491.11 230.2L490.25 230.63L489.38 231.08L488.5 231.56L487.61 232.06L486.7 232.58L485.77 233.12L484.81 233.68L483.83 234.25L482.84 234.82L481.89 235.36L480.98 235.88L480.09 236.38L479.21 236.89L478.32 237.41L477.4 237.95L476.45 238.51L475.45 239.1L474.39 239.73L473.25 240.41L472.11 241.08L471.03 241.73L469.98 242.36L468.89 243.01L467.73 243.7L466.46 244.47L465.02 245.34L463.38 246.34L461.49 247.49L459.3 248.82L456.73 250.39L453.76 252.2L450.48 254.19L446.99 256.32L443.37 258.53L439.71 260.77L436.08 262.99L432.59 265.13L429.32 267.15L426.36 268.99L423.64 270.69L421.05 272.32L418.58 273.89L416.21 275.4L413.92 276.87L411.72 278.29L409.58 279.67L407.5 281.02L405.45 282.34L403.43 283.64L401.46 284.9L399.6 286.07L397.85 287.15L396.18 288.18L394.59 289.18L393.05 290.15L391.55 291.13L390.05 292.15L388.54 293.21L386.95 294.39L385.24 295.68L383.47 297.01L381.69 298.36L379.93 299.74L378.2 301.12L376.53 302.52L374.94 303.93L373.45 305.33L372.08 306.72L370.82 308.13L369.62 309.6L368.46 311.12L367.35 312.67L366.31 314.24L365.33 315.83L364.42 317.44L363.58 319.07L362.82 320.72L362.12 322.38L361.52 324.01L361.02 325.67L360.59 327.5L360.23 329.49L359.92 331.58L359.67 333.72L359.47 335.86L359.31 337.94L359.17 339.94L359.05 341.8L358.94 343.42L358.86 344.69L358.84 345.7L358.85 346.55L358.89 347.28L358.95 347.92L359.03 348.52L359.13 349.13L359.24 349.8L359.36 350.56L359.46 351.31L359.53 351.87L359.58 352.2L359.62 352.44L359.66 352.61L359.7 352.75L359.74 352.9L359.81 353.11L359.91 353.41L360.03 353.8L360.16 354.23L360.27 354.6L360.37 354.92L360.47 355.23L360.58 355.55L360.69 355.87L360.8 356.18L360.91 356.5L361.03 356.81L361.16 357.12L361.28 357.43L361.41 357.74L361.55 358.04L361.68 358.35L361.82 358.65L361.96 358.96L362.11 359.26L362.26 359.56L362.41 359.85L362.57 360.15L362.73 360.44L362.89 360.73L363.06 361.02L363.22 361.31L363.4 361.6L363.57 361.89L363.75 362.17L363.93 362.45L364.12 362.73L364.3 363.01L364.49 363.28L364.69 363.55L364.88 363.82L365.08 364.09L365.28 364.36L365.49 364.62L365.7 364.88L365.91 365.14L366.12 365.4L366.34 365.66L366.56 365.91L366.78 366.16L367 366.41L367.23 366.65L367.46 366.89L367.69 367.14L367.93 367.37L368.17 367.61L368.41 367.84L368.65 368.07L368.89 368.3L369.14 368.52L369.39 368.74L369.64 368.96L369.9 369.18L370.16 369.39L370.42 369.6L370.68 369.81L370.94 370.02L371.21 370.22L371.48 370.42L371.75 370.61L372.02 370.81L372.29 371L372.57 371.18L372.85 371.37L373.13 371.55L373.42 371.73L373.7 371.9L373.99 372.08L374.28 372.24L374.56 372.41L374.86 372.57L375.15 372.73L375.45 372.89L375.74 373.04L376.04 373.19L376.35 373.34L376.65 373.48L376.95 373.62L377.26 373.75L377.56 373.89L377.87 374.02L378.18 374.14L378.49 374.27L378.8 374.39L379.12 374.5L379.43 374.61L379.75 374.72L380.07 374.83L380.38 374.93L380.7 375.03L381.02 375.13L381.34 375.22L381.67 375.31L381.99 375.39L382.32 375.47L382.64 375.55L382.97 375.62L383.29 375.69L383.6 375.76L383.9 375.81L384.24 375.87L384.62 375.93L385.03 375.98L385.45 376.04L385.86 376.09L386.25 376.14L386.62 376.19L386.95 376.23L387.22 376.27" fill="none" stroke="#111" stroke-width="1.1"/>
<rect x="544.5" y="207.3" width="7.9" height="18.2" class="w"/>
<rect x="544.5" y="234.7" width="7.9" height="17.7" class="w"/>
<path class="l" d="M544.5 166.5 L544.5 332.5"/>
<text y="111.9" font-size="23.4" class="t"><tspan x="786.9" textLength="100" lengthAdjust="spacingAndGlyphs">Giardino</tspan> <tspan x="891.2" textLength="36.4" lengthAdjust="spacingAndGlyphs">Del</tspan> <tspan x="933.7" textLength="54.8" lengthAdjust="spacingAndGlyphs">Fiore</tspan></text>
<text y="420.8" font-size="23.4" class="t"><tspan x="793" textLength="100" lengthAdjust="spacingAndGlyphs">Giardino</tspan> <tspan x="897.3" textLength="36.4" lengthAdjust="spacingAndGlyphs">Del</tspan> <tspan x="939.8" textLength="54.8" lengthAdjust="spacingAndGlyphs">Fiore</tspan></text>
<text class="t" transform="translate(854.2 191.9) rotate(90)" font-size="23.4" textLength="119.5" lengthAdjust="spacing">Bar Aperol</text>
<text class="t" transform="translate(830.6 220.7) rotate(90)" font-size="23.4" textLength="61.5" lengthAdjust="spacing">Spritz</text>
<path class="l" d="M827.5 65.5 L827.5 76.4M827.5 104.8 L827.5 129.1M827.5 151 L827.5 166.5M827.5 332.5 L827.5 347M827.5 369.3 L827.5 397.1M827.5 425 L827.5 433.5M931.5 65.5 L931.5 92.5M931.5 405.5 L931.5 433.5"/>
</svg></body></html>
